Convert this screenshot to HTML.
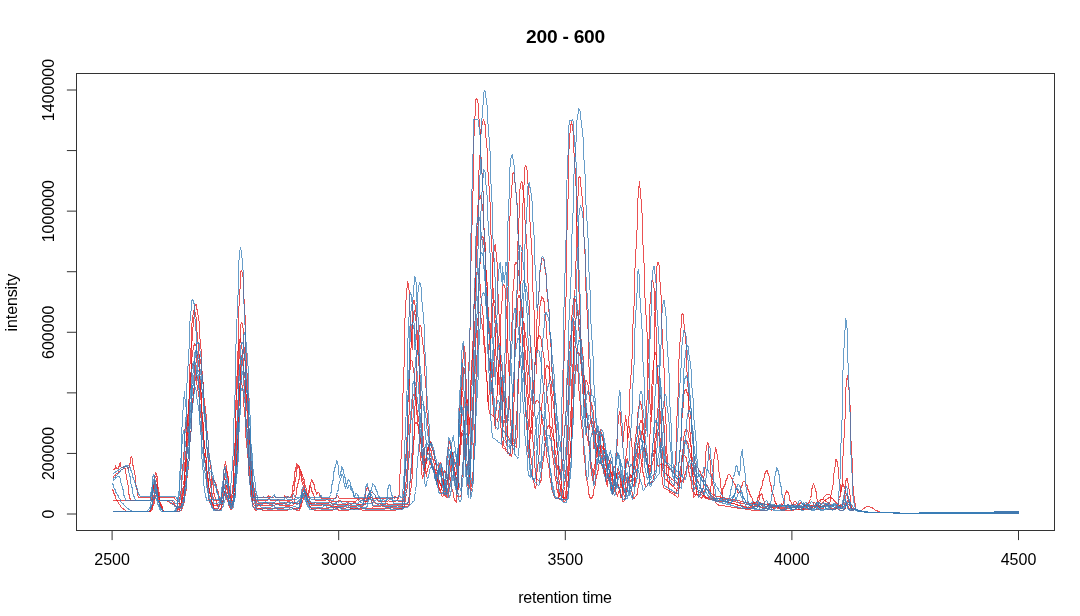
<!DOCTYPE html><html><head><meta charset="utf-8"><title>200 - 600</title>
<style>html,body{margin:0;padding:0;background:#fff}body{width:1080px;height:616px;overflow:hidden}svg{display:block}text{font-family:"Liberation Sans",Arial,sans-serif;fill:#000}</style></head><body>
<svg width="1080" height="616" viewBox="0 0 1080 616">
<rect width="1080" height="616" fill="#fff"/>
<g fill="none" stroke-width="1" stroke-linejoin="round" shape-rendering="crispEdges">
<polyline stroke="#E41A1C" stroke-opacity="0.76" points="112.5,470.5 113.5,469.5 114.5,469.5 115.5,467.5 115.5,465.5 116.5,468.5 118.5,468.5 119.5,464.5 120.5,462.5 120.5,466.5 121.5,467.5 123.5,467.5 123.5,466.5 126.5,466.5 127.5,467.5 128.5,470.5 128.5,469.5 129.5,465.5 130.5,461.5 130.5,458.5 131.5,456.5 132.5,459.5 132.5,463.5 133.5,467.5 134.5,472.5 135.5,477.5 135.5,482.5 136.5,487.5 137.5,491.5 137.5,494.5 138.5,497.5 152.5,497.5 152.5,494.5 153.5,488.5 154.5,482.5 154.5,477.5 155.5,472.5 156.5,474.5 157.5,478.5 157.5,484.5 158.5,489.5 159.5,494.5 159.5,497.5 174.5,497.5 174.5,498.5 175.5,499.5 176.5,500.5 177.5,501.5 177.5,502.5 178.5,503.5 180.5,503.5 181.5,502.5 182.5,502.5 183.5,499.5 184.5,494.5 184.5,488.5 185.5,480.5 186.5,470.5 186.5,459.5 187.5,446.5 188.5,431.5 189.5,415.5 189.5,399.5 190.5,381.5 191.5,364.5 191.5,348.5 192.5,333.5 193.5,321.5 194.5,312.5 194.5,306.5 195.5,304.5 196.5,304.5 196.5,307.5 197.5,311.5 198.5,317.5 199.5,324.5 199.5,333.5 200.5,343.5 201.5,353.5 201.5,364.5 202.5,376.5 203.5,387.5 203.5,399.5 204.5,411.5 205.5,422.5 206.5,432.5 206.5,442.5 207.5,452.5 208.5,460.5 208.5,468.5 209.5,475.5 210.5,481.5 211.5,486.5 211.5,491.5 212.5,495.5 213.5,498.5 213.5,500.5 221.5,500.5 221.5,495.5 222.5,489.5 223.5,482.5 223.5,474.5 224.5,466.5 225.5,461.5 225.5,462.5 226.5,467.5 227.5,474.5 228.5,480.5 228.5,486.5 229.5,492.5 230.5,496.5 230.5,499.5 231.5,497.5 232.5,490.5 233.5,480.5 233.5,468.5 234.5,452.5 235.5,433.5 235.5,412.5 236.5,388.5 237.5,363.5 238.5,339.5 238.5,316.5 239.5,296.5 240.5,281.5 240.5,272.5 241.5,270.5 242.5,273.5 243.5,280.5 243.5,291.5 244.5,306.5 245.5,323.5 245.5,342.5 246.5,362.5 247.5,382.5 248.5,402.5 248.5,420.5 249.5,437.5 250.5,452.5 250.5,465.5 251.5,476.5 252.5,485.5 252.5,492.5 253.5,497.5 267.5,497.5 267.5,496.5 268.5,495.5 269.5,497.5 270.5,496.5 271.5,497.5 273.5,497.5 274.5,496.5 275.5,497.5 284.5,497.5 284.5,495.5 285.5,496.5 286.5,497.5 287.5,497.5 287.5,496.5 288.5,496.5 289.5,497.5 290.5,497.5 291.5,495.5 292.5,492.5 292.5,487.5 293.5,483.5 294.5,478.5 294.5,473.5 295.5,469.5 296.5,465.5 296.5,463.5 297.5,464.5 298.5,466.5 299.5,468.5 299.5,471.5 300.5,474.5 301.5,477.5 301.5,480.5 302.5,483.5 303.5,486.5 304.5,489.5 304.5,492.5 305.5,494.5 306.5,496.5 306.5,498.5 307.5,498.5 308.5,494.5 309.5,491.5 309.5,487.5 310.5,483.5 311.5,480.5 311.5,479.5 312.5,481.5 313.5,483.5 314.5,485.5 314.5,488.5 315.5,490.5 316.5,493.5 316.5,494.5 317.5,492.5 318.5,492.5 319.5,493.5 319.5,494.5 320.5,496.5 321.5,498.5 335.5,498.5 336.5,496.5 336.5,495.5 337.5,495.5 338.5,496.5 338.5,497.5 339.5,498.5 370.5,498.5 370.5,497.5 371.5,497.5 372.5,498.5 385.5,498.5 386.5,497.5 387.5,497.5 388.5,498.5 392.5,498.5 393.5,497.5 394.5,496.5 394.5,498.5 395.5,496.5 396.5,497.5 397.5,497.5 397.5,498.5 398.5,498.5 399.5,491.5 399.5,481.5 400.5,467.5 401.5,450.5 402.5,429.5 402.5,406.5 403.5,380.5 404.5,354.5 404.5,329.5 405.5,307.5 406.5,292.5 407.5,283.5 407.5,281.5 408.5,285.5 409.5,294.5 409.5,306.5 410.5,322.5 411.5,340.5 412.5,349.5 412.5,327.5 413.5,313.5 414.5,310.5 414.5,312.5 415.5,316.5 416.5,324.5 416.5,333.5 417.5,345.5 418.5,358.5 419.5,372.5 419.5,386.5 420.5,401.5 421.5,415.5 421.5,429.5 422.5,442.5 423.5,453.5 424.5,464.5 424.5,471.5 425.5,466.5 426.5,461.5 426.5,457.5 427.5,452.5 428.5,448.5 429.5,444.5 429.5,442.5 430.5,442.5 431.5,444.5 431.5,446.5 432.5,449.5 433.5,452.5 434.5,456.5 434.5,459.5 435.5,462.5 436.5,466.5 436.5,469.5 437.5,472.5 438.5,476.5 438.5,479.5 439.5,482.5 440.5,484.5 441.5,487.5 442.5,483.5 443.5,478.5 443.5,474.5 444.5,470.5 445.5,471.5 446.5,473.5 446.5,476.5 447.5,480.5 448.5,475.5 448.5,468.5 449.5,461.5 450.5,454.5 451.5,450.5 452.5,454.5 453.5,458.5 453.5,464.5 454.5,469.5 455.5,474.5 456.5,479.5 456.5,484.5 457.5,480.5 458.5,469.5 458.5,458.5 459.5,448.5 460.5,439.5 461.5,434.5 461.5,432.5 462.5,433.5 463.5,438.5 463.5,445.5 464.5,454.5 465.5,464.5 466.5,448.5 467.5,428.5 468.5,405.5 468.5,377.5 469.5,347.5 470.5,314.5 470.5,279.5 471.5,243.5 472.5,208.5 473.5,175.5 473.5,147.5 474.5,124.5 475.5,107.5 475.5,99.5 476.5,98.5 477.5,100.5 478.5,105.5 478.5,113.5 479.5,123.5 480.5,134.5 480.5,148.5 481.5,164.5 482.5,181.5 483.5,199.5 483.5,218.5 484.5,237.5 485.5,257.5 485.5,277.5 486.5,296.5 487.5,316.5 487.5,334.5 488.5,352.5 489.5,369.5 490.5,360.5 490.5,335.5 491.5,310.5 492.5,288.5 492.5,269.5 493.5,255.5 494.5,246.5 495.5,244.5 495.5,247.5 496.5,255.5 497.5,267.5 497.5,284.5 498.5,303.5 499.5,324.5 500.5,346.5 500.5,368.5 501.5,389.5 502.5,410.5 502.5,428.5 503.5,445.5 504.5,446.5 505.5,447.5 505.5,448.5 506.5,449.5 507.5,450.5 507.5,451.5 508.5,452.5 509.5,453.5 509.5,454.5 510.5,455.5 511.5,456.5 512.5,451.5 512.5,434.5 513.5,413.5 514.5,390.5 514.5,364.5 515.5,337.5 516.5,308.5 517.5,280.5 517.5,253.5 518.5,228.5 519.5,208.5 519.5,193.5 520.5,184.5 521.5,181.5 522.5,182.5 522.5,186.5 523.5,193.5 524.5,202.5 524.5,213.5 525.5,226.5 526.5,240.5 527.5,256.5 527.5,273.5 528.5,291.5 529.5,308.5 529.5,326.5 530.5,344.5 531.5,361.5 532.5,378.5 532.5,393.5 533.5,403.5 534.5,388.5 534.5,373.5 535.5,357.5 536.5,341.5 536.5,326.5 537.5,311.5 538.5,298.5 539.5,286.5 539.5,276.5 540.5,267.5 541.5,262.5 541.5,258.5 542.5,258.5 543.5,259.5 544.5,261.5 544.5,266.5 545.5,271.5 546.5,278.5 546.5,287.5 547.5,296.5 548.5,306.5 549.5,317.5 549.5,329.5 550.5,340.5 551.5,353.5 551.5,365.5 552.5,377.5 553.5,389.5 554.5,401.5 554.5,412.5 555.5,422.5 556.5,432.5 556.5,442.5 557.5,450.5 558.5,458.5 558.5,466.5 559.5,472.5 560.5,475.5 561.5,462.5 561.5,445.5 562.5,426.5 563.5,402.5 563.5,376.5 564.5,346.5 565.5,314.5 566.5,280.5 566.5,247.5 567.5,214.5 568.5,184.5 568.5,159.5 569.5,139.5 570.5,126.5 571.5,121.5 571.5,122.5 572.5,126.5 573.5,134.5 573.5,145.5 574.5,159.5 575.5,176.5 576.5,194.5 576.5,214.5 577.5,236.5 578.5,258.5 578.5,280.5 579.5,303.5 580.5,325.5 580.5,346.5 581.5,366.5 582.5,385.5 583.5,402.5 583.5,398.5 584.5,388.5 585.5,382.5 585.5,380.5 586.5,380.5 587.5,383.5 588.5,386.5 588.5,391.5 589.5,398.5 590.5,405.5 590.5,413.5 591.5,422.5 592.5,430.5 593.5,439.5 593.5,448.5 594.5,448.5 595.5,442.5 595.5,437.5 596.5,432.5 597.5,430.5 598.5,431.5 598.5,434.5 599.5,438.5 600.5,442.5 600.5,447.5 601.5,451.5 602.5,456.5 603.5,460.5 603.5,465.5 604.5,469.5 605.5,473.5 605.5,477.5 606.5,481.5 607.5,476.5 607.5,471.5 608.5,465.5 609.5,461.5 610.5,458.5 610.5,459.5 611.5,462.5 612.5,465.5 612.5,469.5 613.5,473.5 614.5,477.5 615.5,481.5 615.5,479.5 616.5,475.5 617.5,472.5 617.5,471.5 618.5,473.5 619.5,476.5 620.5,479.5 620.5,483.5 621.5,486.5 622.5,488.5 622.5,484.5 623.5,479.5 624.5,473.5 625.5,467.5 625.5,460.5 626.5,452.5 627.5,443.5 627.5,433.5 628.5,422.5 629.5,409.5 629.5,396.5 630.5,382.5 631.5,367.5 632.5,350.5 632.5,333.5 633.5,315.5 634.5,296.5 634.5,277.5 635.5,258.5 636.5,239.5 637.5,221.5 637.5,204.5 638.5,191.5 639.5,181.5 639.5,182.5 640.5,192.5 641.5,205.5 642.5,220.5 642.5,236.5 643.5,253.5 644.5,271.5 644.5,288.5 645.5,306.5 646.5,323.5 647.5,339.5 647.5,355.5 648.5,370.5 649.5,384.5 649.5,397.5 650.5,409.5 651.5,420.5 651.5,421.5 652.5,398.5 653.5,373.5 654.5,348.5 654.5,323.5 655.5,300.5 656.5,282.5 656.5,269.5 657.5,262.5 658.5,262.5 659.5,267.5 659.5,275.5 660.5,287.5 661.5,302.5 661.5,319.5 662.5,338.5 663.5,358.5 664.5,377.5 664.5,397.5 665.5,415.5 666.5,431.5 666.5,447.5 667.5,460.5 668.5,471.5 669.5,480.5 669.5,483.5 670.5,484.5 671.5,484.5 672.5,485.5 673.5,485.5 674.5,482.5 674.5,471.5 675.5,458.5 676.5,443.5 676.5,425.5 677.5,406.5 678.5,387.5 678.5,367.5 679.5,350.5 680.5,334.5 681.5,322.5 681.5,315.5 682.5,313.5 683.5,314.5 683.5,319.5 684.5,327.5 685.5,337.5 686.5,350.5 686.5,364.5 687.5,379.5 688.5,394.5 688.5,409.5 689.5,424.5 690.5,438.5 691.5,451.5 691.5,462.5 692.5,472.5 693.5,481.5 693.5,488.5 694.5,494.5 700.5,494.5 700.5,493.5 701.5,491.5 702.5,490.5 703.5,486.5 703.5,480.5 704.5,472.5 705.5,463.5 705.5,455.5 706.5,447.5 707.5,442.5 708.5,444.5 708.5,450.5 709.5,456.5 710.5,463.5 710.5,470.5 711.5,477.5 712.5,483.5 713.5,488.5 713.5,493.5 714.5,495.5 715.5,496.5 719.5,496.5 720.5,497.5 724.5,497.5 725.5,498.5 729.5,498.5 730.5,499.5 734.5,499.5 735.5,500.5 739.5,500.5 740.5,501.5 743.5,501.5 744.5,502.5 748.5,502.5 749.5,503.5 753.5,503.5 754.5,504.5 757.5,504.5 757.5,502.5 758.5,501.5 759.5,498.5 759.5,496.5 760.5,494.5 761.5,493.5 762.5,495.5 762.5,497.5 763.5,499.5 764.5,502.5 764.5,504.5 766.5,504.5 767.5,505.5 768.5,505.5 769.5,503.5 770.5,504.5 771.5,505.5 780.5,505.5 781.5,504.5 781.5,503.5 782.5,504.5 783.5,505.5 792.5,505.5 793.5,504.5 793.5,502.5 794.5,501.5 795.5,501.5 796.5,502.5 796.5,503.5 797.5,504.5 798.5,505.5 799.5,504.5 800.5,502.5 801.5,502.5 802.5,503.5 803.5,504.5 803.5,505.5 812.5,505.5 813.5,504.5 813.5,502.5 814.5,502.5 815.5,503.5 816.5,505.5 819.5,505.5 820.5,506.5 825.5,506.5 826.5,504.5 827.5,504.5 828.5,503.5 828.5,504.5 829.5,503.5 830.5,500.5 830.5,497.5 831.5,492.5 832.5,487.5 833.5,482.5 833.5,476.5 834.5,470.5 835.5,464.5 835.5,459.5 836.5,459.5 837.5,463.5 838.5,469.5 838.5,475.5 839.5,481.5 840.5,486.5 840.5,492.5 841.5,490.5 842.5,479.5 842.5,464.5 843.5,447.5 844.5,428.5 845.5,409.5 845.5,393.5 846.5,381.5 847.5,375.5 847.5,376.5 848.5,383.5 849.5,396.5 850.5,413.5 850.5,431.5 851.5,449.5 852.5,466.5 852.5,480.5 853.5,491.5 854.5,499.5 855.5,505.5 855.5,508.5 856.5,509.5 857.5,510.5 858.5,511.5 867.5,511.5 867.5,512.5 892.5,512.5 893.5,513.5 1018.5,513.5"/>
<polyline stroke="#E41A1C" stroke-opacity="0.76" points="112.5,478.5 113.5,477.5 113.5,476.5 114.5,475.5 115.5,475.5 115.5,474.5 116.5,473.5 117.5,473.5 118.5,472.5 118.5,471.5 119.5,471.5 120.5,470.5 121.5,469.5 122.5,469.5 123.5,468.5 125.5,468.5 125.5,471.5 126.5,476.5 127.5,482.5 128.5,487.5 128.5,492.5 129.5,496.5 130.5,500.5 151.5,500.5 152.5,496.5 152.5,491.5 153.5,486.5 154.5,481.5 154.5,477.5 155.5,476.5 156.5,479.5 157.5,484.5 157.5,489.5 158.5,494.5 159.5,498.5 159.5,500.5 172.5,500.5 172.5,501.5 173.5,502.5 174.5,504.5 174.5,505.5 175.5,506.5 176.5,507.5 177.5,509.5 179.5,509.5 180.5,508.5 181.5,506.5 181.5,502.5 182.5,498.5 183.5,493.5 184.5,486.5 184.5,477.5 185.5,466.5 186.5,454.5 186.5,440.5 187.5,424.5 188.5,407.5 189.5,390.5 189.5,372.5 190.5,356.5 191.5,340.5 191.5,328.5 192.5,318.5 193.5,311.5 194.5,309.5 194.5,310.5 195.5,313.5 196.5,319.5 196.5,326.5 197.5,336.5 198.5,347.5 199.5,359.5 199.5,371.5 200.5,385.5 201.5,398.5 201.5,411.5 202.5,424.5 203.5,436.5 203.5,447.5 204.5,457.5 205.5,466.5 206.5,474.5 206.5,481.5 207.5,488.5 208.5,493.5 208.5,497.5 209.5,501.5 210.5,504.5 211.5,505.5 217.5,505.5 218.5,504.5 220.5,504.5 221.5,503.5 221.5,499.5 222.5,495.5 223.5,489.5 223.5,483.5 224.5,477.5 225.5,471.5 225.5,468.5 226.5,470.5 227.5,474.5 228.5,478.5 228.5,483.5 229.5,488.5 230.5,492.5 230.5,496.5 231.5,499.5 232.5,502.5 233.5,498.5 233.5,490.5 234.5,479.5 235.5,466.5 235.5,450.5 236.5,431.5 237.5,410.5 238.5,389.5 238.5,368.5 239.5,349.5 240.5,334.5 240.5,325.5 241.5,322.5 242.5,324.5 243.5,330.5 243.5,340.5 244.5,353.5 245.5,368.5 245.5,384.5 246.5,402.5 247.5,419.5 248.5,435.5 248.5,449.5 249.5,463.5 250.5,474.5 250.5,483.5 251.5,491.5 252.5,497.5 252.5,500.5 267.5,500.5 267.5,499.5 268.5,498.5 269.5,498.5 270.5,499.5 270.5,500.5 277.5,500.5 277.5,499.5 278.5,499.5 279.5,500.5 291.5,500.5 292.5,499.5 292.5,495.5 293.5,492.5 294.5,488.5 294.5,483.5 295.5,479.5 296.5,474.5 296.5,470.5 297.5,466.5 298.5,465.5 299.5,466.5 299.5,468.5 300.5,470.5 301.5,473.5 301.5,476.5 302.5,479.5 303.5,482.5 304.5,485.5 304.5,488.5 305.5,490.5 306.5,493.5 306.5,495.5 307.5,494.5 308.5,491.5 309.5,488.5 309.5,486.5 310.5,486.5 311.5,488.5 311.5,490.5 312.5,492.5 313.5,494.5 314.5,497.5 314.5,499.5 315.5,500.5 325.5,500.5 326.5,499.5 327.5,499.5 328.5,500.5 330.5,500.5 331.5,501.5 338.5,501.5 338.5,500.5 340.5,500.5 341.5,501.5 355.5,501.5 356.5,500.5 357.5,499.5 358.5,499.5 358.5,500.5 359.5,501.5 360.5,501.5 361.5,500.5 362.5,499.5 363.5,499.5 363.5,500.5 364.5,500.5 365.5,501.5 367.5,501.5 367.5,500.5 368.5,498.5 369.5,496.5 370.5,495.5 370.5,493.5 371.5,492.5 372.5,492.5 373.5,493.5 374.5,494.5 375.5,495.5 375.5,496.5 376.5,498.5 377.5,499.5 377.5,500.5 378.5,501.5 387.5,501.5 388.5,500.5 389.5,501.5 395.5,501.5 396.5,500.5 397.5,499.5 397.5,500.5 398.5,501.5 404.5,501.5 404.5,495.5 405.5,487.5 406.5,476.5 407.5,462.5 407.5,445.5 408.5,425.5 409.5,404.5 409.5,381.5 410.5,358.5 411.5,337.5 412.5,320.5 412.5,307.5 413.5,300.5 414.5,300.5 414.5,302.5 415.5,307.5 416.5,315.5 416.5,324.5 417.5,335.5 418.5,347.5 419.5,360.5 419.5,374.5 420.5,388.5 421.5,402.5 421.5,416.5 422.5,429.5 423.5,441.5 424.5,452.5 424.5,462.5 425.5,471.5 426.5,476.5 426.5,473.5 427.5,469.5 428.5,466.5 429.5,463.5 429.5,461.5 430.5,460.5 431.5,462.5 431.5,463.5 432.5,465.5 433.5,468.5 434.5,470.5 434.5,472.5 435.5,475.5 436.5,477.5 436.5,480.5 437.5,482.5 438.5,485.5 438.5,487.5 439.5,489.5 440.5,491.5 441.5,493.5 441.5,495.5 442.5,496.5 443.5,495.5 443.5,490.5 444.5,484.5 445.5,478.5 446.5,470.5 446.5,462.5 447.5,454.5 448.5,446.5 448.5,441.5 449.5,441.5 450.5,445.5 451.5,451.5 451.5,457.5 452.5,463.5 453.5,469.5 453.5,475.5 454.5,480.5 455.5,485.5 456.5,489.5 456.5,493.5 457.5,496.5 460.5,496.5 461.5,493.5 461.5,483.5 462.5,471.5 463.5,457.5 463.5,442.5 464.5,427.5 465.5,414.5 465.5,404.5 466.5,400.5 467.5,400.5 468.5,405.5 468.5,414.5 469.5,424.5 470.5,409.5 470.5,394.5 471.5,376.5 472.5,358.5 473.5,339.5 473.5,319.5 474.5,298.5 475.5,277.5 475.5,256.5 476.5,235.5 477.5,215.5 478.5,195.5 478.5,178.5 479.5,162.5 480.5,148.5 480.5,136.5 481.5,128.5 482.5,122.5 483.5,119.5 484.5,122.5 485.5,126.5 485.5,133.5 486.5,142.5 487.5,152.5 487.5,164.5 488.5,178.5 489.5,193.5 490.5,209.5 490.5,225.5 491.5,243.5 492.5,260.5 492.5,278.5 493.5,296.5 494.5,314.5 495.5,331.5 495.5,347.5 496.5,363.5 497.5,379.5 497.5,393.5 498.5,376.5 499.5,357.5 500.5,338.5 500.5,321.5 501.5,306.5 502.5,295.5 502.5,287.5 503.5,284.5 504.5,285.5 505.5,290.5 505.5,299.5 506.5,311.5 507.5,326.5 507.5,343.5 508.5,362.5 509.5,381.5 509.5,399.5 510.5,417.5 511.5,434.5 512.5,440.5 512.5,442.5 513.5,443.5 514.5,444.5 514.5,445.5 515.5,446.5 516.5,447.5 517.5,428.5 517.5,407.5 518.5,382.5 519.5,355.5 519.5,326.5 520.5,296.5 521.5,266.5 522.5,238.5 522.5,213.5 523.5,192.5 524.5,177.5 524.5,168.5 525.5,165.5 526.5,167.5 527.5,172.5 527.5,179.5 528.5,188.5 529.5,200.5 529.5,214.5 530.5,229.5 531.5,246.5 532.5,263.5 532.5,282.5 533.5,300.5 534.5,319.5 534.5,338.5 535.5,355.5 536.5,373.5 536.5,360.5 537.5,345.5 538.5,332.5 539.5,320.5 539.5,310.5 540.5,302.5 541.5,298.5 541.5,296.5 542.5,297.5 543.5,299.5 544.5,303.5 544.5,309.5 545.5,316.5 546.5,324.5 546.5,333.5 547.5,344.5 548.5,355.5 549.5,366.5 549.5,378.5 550.5,389.5 551.5,401.5 551.5,412.5 552.5,423.5 553.5,433.5 554.5,443.5 554.5,452.5 555.5,460.5 556.5,468.5 556.5,475.5 557.5,481.5 558.5,486.5 558.5,491.5 559.5,495.5 560.5,495.5 561.5,496.5 562.5,497.5 566.5,497.5 567.5,494.5 568.5,487.5 568.5,477.5 569.5,465.5 570.5,450.5 571.5,432.5 571.5,411.5 572.5,387.5 573.5,361.5 573.5,333.5 574.5,304.5 575.5,275.5 576.5,248.5 576.5,223.5 577.5,203.5 578.5,188.5 578.5,178.5 579.5,176.5 580.5,178.5 580.5,182.5 581.5,190.5 582.5,200.5 583.5,213.5 583.5,228.5 584.5,244.5 585.5,262.5 585.5,281.5 586.5,300.5 587.5,319.5 588.5,338.5 588.5,357.5 589.5,375.5 590.5,392.5 590.5,401.5 591.5,403.5 592.5,407.5 593.5,412.5 593.5,417.5 594.5,424.5 595.5,431.5 595.5,438.5 596.5,446.5 597.5,453.5 598.5,460.5 598.5,458.5 599.5,453.5 600.5,449.5 600.5,446.5 601.5,445.5 602.5,447.5 603.5,449.5 603.5,453.5 604.5,456.5 605.5,460.5 605.5,464.5 606.5,466.5 607.5,464.5 607.5,465.5 608.5,468.5 609.5,471.5 610.5,475.5 610.5,479.5 611.5,480.5 612.5,475.5 612.5,471.5 613.5,467.5 614.5,466.5 615.5,468.5 615.5,471.5 616.5,475.5 617.5,479.5 617.5,483.5 618.5,487.5 619.5,490.5 620.5,494.5 620.5,497.5 621.5,497.5 622.5,494.5 622.5,489.5 623.5,484.5 624.5,478.5 625.5,472.5 625.5,466.5 626.5,460.5 627.5,458.5 627.5,460.5 628.5,464.5 629.5,468.5 629.5,472.5 630.5,477.5 631.5,477.5 632.5,472.5 632.5,466.5 633.5,459.5 634.5,453.5 634.5,445.5 635.5,438.5 636.5,430.5 637.5,422.5 637.5,415.5 638.5,409.5 639.5,403.5 639.5,400.5 640.5,402.5 641.5,406.5 642.5,412.5 642.5,419.5 643.5,426.5 644.5,433.5 644.5,440.5 645.5,428.5 646.5,409.5 647.5,390.5 647.5,369.5 648.5,348.5 649.5,329.5 649.5,311.5 650.5,297.5 651.5,287.5 651.5,281.5 652.5,280.5 653.5,283.5 654.5,291.5 654.5,303.5 655.5,318.5 656.5,335.5 656.5,354.5 657.5,374.5 658.5,393.5 659.5,412.5 659.5,430.5 660.5,445.5 661.5,459.5 661.5,471.5 662.5,481.5 663.5,487.5 664.5,488.5 665.5,488.5 666.5,489.5 667.5,489.5 668.5,490.5 669.5,490.5 670.5,491.5 671.5,491.5 672.5,492.5 674.5,492.5 674.5,493.5 676.5,493.5 676.5,492.5 677.5,486.5 678.5,478.5 678.5,468.5 679.5,458.5 680.5,446.5 681.5,435.5 681.5,423.5 682.5,412.5 683.5,403.5 683.5,395.5 684.5,391.5 685.5,389.5 686.5,389.5 686.5,391.5 687.5,393.5 688.5,397.5 688.5,402.5 689.5,408.5 690.5,415.5 691.5,422.5 691.5,429.5 692.5,437.5 693.5,444.5 693.5,452.5 694.5,459.5 695.5,466.5 696.5,472.5 696.5,478.5 697.5,480.5 698.5,482.5 698.5,483.5 699.5,484.5 700.5,486.5 700.5,488.5 701.5,489.5 702.5,491.5 703.5,492.5 703.5,494.5 704.5,495.5 705.5,497.5 709.5,497.5 710.5,494.5 710.5,489.5 711.5,483.5 712.5,476.5 713.5,469.5 713.5,462.5 714.5,455.5 715.5,449.5 715.5,447.5 716.5,451.5 717.5,456.5 718.5,462.5 718.5,468.5 719.5,474.5 720.5,480.5 720.5,485.5 721.5,490.5 722.5,494.5 722.5,498.5 723.5,501.5 726.5,501.5 727.5,502.5 730.5,502.5 731.5,503.5 734.5,503.5 735.5,504.5 737.5,504.5 738.5,505.5 742.5,505.5 742.5,506.5 745.5,506.5 746.5,507.5 751.5,507.5 752.5,506.5 752.5,504.5 753.5,502.5 754.5,502.5 754.5,503.5 755.5,504.5 756.5,505.5 757.5,506.5 758.5,504.5 759.5,503.5 759.5,502.5 760.5,502.5 761.5,504.5 762.5,505.5 762.5,507.5 766.5,507.5 767.5,505.5 767.5,503.5 768.5,504.5 769.5,505.5 769.5,507.5 773.5,507.5 774.5,506.5 774.5,504.5 775.5,503.5 776.5,503.5 776.5,504.5 777.5,505.5 778.5,507.5 785.5,507.5 786.5,506.5 786.5,505.5 787.5,504.5 788.5,504.5 789.5,505.5 789.5,506.5 790.5,507.5 803.5,507.5 804.5,506.5 805.5,505.5 806.5,504.5 806.5,503.5 808.5,503.5 809.5,501.5 810.5,498.5 811.5,494.5 811.5,490.5 812.5,486.5 813.5,483.5 814.5,486.5 815.5,489.5 816.5,493.5 816.5,497.5 817.5,500.5 818.5,503.5 818.5,505.5 819.5,507.5 820.5,508.5 823.5,508.5 823.5,506.5 824.5,504.5 825.5,503.5 826.5,504.5 827.5,505.5 828.5,505.5 829.5,506.5 830.5,508.5 837.5,508.5 838.5,507.5 838.5,506.5 839.5,505.5 840.5,504.5 840.5,506.5 841.5,505.5 842.5,504.5 843.5,502.5 844.5,495.5 845.5,488.5 845.5,482.5 846.5,478.5 847.5,478.5 847.5,480.5 848.5,485.5 849.5,491.5 850.5,498.5 850.5,503.5 851.5,507.5 852.5,508.5 852.5,509.5 855.5,509.5 856.5,510.5 857.5,510.5 858.5,511.5 859.5,511.5 860.5,510.5 861.5,510.5 862.5,509.5 863.5,508.5 864.5,508.5 864.5,507.5 865.5,507.5 866.5,506.5 869.5,506.5 870.5,507.5 872.5,507.5 872.5,508.5 873.5,508.5 874.5,509.5 875.5,510.5 877.5,510.5 877.5,511.5 879.5,511.5 880.5,512.5 894.5,512.5 894.5,513.5 918.5,513.5 919.5,512.5 1018.5,512.5"/>
<polyline stroke="#E41A1C" stroke-opacity="0.76" points="112.5,489.5 113.5,491.5 113.5,492.5 114.5,494.5 115.5,496.5 115.5,498.5 116.5,499.5 117.5,501.5 118.5,502.5 118.5,503.5 119.5,504.5 120.5,505.5 120.5,506.5 121.5,507.5 122.5,508.5 123.5,508.5 123.5,509.5 124.5,509.5 125.5,510.5 126.5,511.5 150.5,511.5 150.5,510.5 151.5,508.5 152.5,506.5 152.5,504.5 153.5,501.5 154.5,498.5 154.5,495.5 155.5,492.5 156.5,490.5 157.5,491.5 157.5,493.5 158.5,496.5 159.5,499.5 159.5,502.5 160.5,504.5 161.5,506.5 162.5,508.5 162.5,509.5 163.5,510.5 164.5,511.5 178.5,511.5 179.5,510.5 179.5,508.5 180.5,506.5 181.5,503.5 181.5,500.5 182.5,496.5 183.5,490.5 184.5,484.5 184.5,476.5 185.5,467.5 186.5,457.5 186.5,446.5 187.5,434.5 188.5,421.5 189.5,408.5 189.5,395.5 190.5,383.5 191.5,371.5 191.5,361.5 192.5,353.5 193.5,347.5 194.5,343.5 195.5,344.5 196.5,346.5 196.5,350.5 197.5,356.5 198.5,362.5 199.5,370.5 199.5,378.5 200.5,387.5 201.5,397.5 201.5,406.5 202.5,416.5 203.5,426.5 203.5,435.5 204.5,444.5 205.5,453.5 206.5,461.5 206.5,468.5 207.5,475.5 208.5,481.5 208.5,486.5 209.5,491.5 210.5,495.5 211.5,498.5 211.5,501.5 212.5,503.5 213.5,505.5 213.5,507.5 214.5,508.5 217.5,508.5 218.5,507.5 219.5,506.5 220.5,503.5 221.5,499.5 221.5,495.5 222.5,490.5 223.5,485.5 223.5,480.5 224.5,478.5 225.5,480.5 225.5,483.5 226.5,487.5 227.5,491.5 228.5,495.5 228.5,498.5 229.5,501.5 230.5,503.5 230.5,506.5 231.5,501.5 232.5,494.5 233.5,485.5 233.5,473.5 234.5,458.5 235.5,440.5 235.5,420.5 236.5,399.5 237.5,379.5 238.5,361.5 238.5,347.5 239.5,339.5 240.5,338.5 240.5,340.5 241.5,345.5 242.5,352.5 243.5,362.5 243.5,373.5 244.5,385.5 245.5,399.5 245.5,412.5 246.5,425.5 247.5,438.5 248.5,450.5 248.5,461.5 249.5,471.5 250.5,479.5 250.5,486.5 251.5,492.5 252.5,497.5 252.5,501.5 253.5,504.5 254.5,505.5 274.5,505.5 275.5,504.5 276.5,504.5 277.5,503.5 278.5,504.5 279.5,504.5 279.5,505.5 292.5,505.5 293.5,504.5 294.5,502.5 294.5,499.5 295.5,496.5 296.5,493.5 296.5,489.5 297.5,485.5 298.5,481.5 299.5,477.5 299.5,473.5 300.5,471.5 301.5,471.5 301.5,473.5 302.5,475.5 303.5,478.5 304.5,480.5 304.5,483.5 305.5,486.5 306.5,489.5 306.5,492.5 307.5,494.5 308.5,496.5 309.5,498.5 309.5,500.5 310.5,502.5 311.5,504.5 311.5,505.5 321.5,505.5 321.5,504.5 322.5,504.5 323.5,505.5 330.5,505.5 331.5,506.5 344.5,506.5 345.5,505.5 346.5,504.5 348.5,504.5 349.5,505.5 350.5,506.5 356.5,506.5 357.5,505.5 358.5,504.5 359.5,504.5 360.5,505.5 360.5,506.5 362.5,506.5 363.5,505.5 363.5,503.5 364.5,499.5 365.5,496.5 365.5,492.5 366.5,489.5 367.5,487.5 368.5,489.5 369.5,492.5 370.5,495.5 370.5,498.5 371.5,501.5 372.5,503.5 372.5,505.5 373.5,506.5 380.5,506.5 381.5,505.5 382.5,505.5 382.5,506.5 396.5,506.5 397.5,505.5 398.5,506.5 407.5,506.5 408.5,505.5 409.5,503.5 409.5,498.5 410.5,492.5 411.5,484.5 412.5,474.5 412.5,462.5 413.5,448.5 414.5,432.5 414.5,415.5 415.5,397.5 416.5,379.5 416.5,362.5 417.5,348.5 418.5,336.5 419.5,328.5 419.5,325.5 420.5,325.5 421.5,328.5 421.5,333.5 422.5,340.5 423.5,348.5 424.5,358.5 424.5,370.5 425.5,381.5 426.5,394.5 426.5,406.5 427.5,419.5 428.5,431.5 429.5,442.5 429.5,452.5 430.5,462.5 431.5,467.5 431.5,466.5 432.5,466.5 433.5,468.5 434.5,469.5 434.5,471.5 435.5,473.5 436.5,476.5 436.5,478.5 437.5,480.5 438.5,476.5 438.5,472.5 439.5,469.5 440.5,470.5 441.5,472.5 441.5,476.5 442.5,479.5 443.5,483.5 443.5,487.5 444.5,490.5 445.5,493.5 446.5,496.5 446.5,495.5 447.5,491.5 448.5,486.5 448.5,480.5 449.5,474.5 450.5,469.5 451.5,463.5 451.5,460.5 452.5,461.5 453.5,465.5 453.5,469.5 454.5,473.5 455.5,477.5 456.5,482.5 456.5,486.5 457.5,490.5 458.5,488.5 458.5,474.5 459.5,456.5 460.5,434.5 461.5,411.5 461.5,387.5 462.5,366.5 463.5,351.5 463.5,345.5 464.5,347.5 465.5,355.5 465.5,369.5 466.5,388.5 467.5,408.5 468.5,429.5 468.5,448.5 469.5,465.5 470.5,461.5 470.5,446.5 471.5,428.5 472.5,408.5 473.5,385.5 473.5,360.5 474.5,334.5 475.5,307.5 475.5,281.5 476.5,256.5 477.5,235.5 478.5,217.5 478.5,204.5 479.5,196.5 480.5,195.5 480.5,196.5 481.5,200.5 482.5,206.5 483.5,214.5 483.5,224.5 484.5,235.5 485.5,248.5 485.5,262.5 486.5,277.5 487.5,293.5 487.5,309.5 488.5,325.5 489.5,341.5 490.5,357.5 490.5,372.5 491.5,387.5 492.5,400.5 492.5,384.5 493.5,369.5 494.5,355.5 495.5,343.5 495.5,335.5 496.5,330.5 497.5,330.5 497.5,332.5 498.5,338.5 499.5,346.5 500.5,357.5 500.5,369.5 501.5,383.5 502.5,397.5 502.5,412.5 503.5,426.5 504.5,419.5 505.5,398.5 505.5,376.5 506.5,352.5 507.5,326.5 507.5,300.5 508.5,274.5 509.5,249.5 509.5,226.5 510.5,206.5 511.5,190.5 512.5,179.5 512.5,173.5 513.5,172.5 514.5,174.5 514.5,179.5 515.5,186.5 516.5,196.5 517.5,208.5 517.5,222.5 518.5,237.5 519.5,254.5 519.5,271.5 520.5,289.5 521.5,308.5 522.5,326.5 522.5,344.5 523.5,361.5 524.5,378.5 524.5,394.5 525.5,409.5 526.5,423.5 527.5,435.5 527.5,446.5 528.5,457.5 529.5,453.5 529.5,444.5 530.5,433.5 531.5,422.5 532.5,410.5 532.5,399.5 533.5,387.5 534.5,376.5 534.5,366.5 535.5,357.5 536.5,349.5 536.5,343.5 537.5,338.5 538.5,335.5 539.5,335.5 540.5,337.5 541.5,340.5 541.5,344.5 542.5,348.5 543.5,354.5 544.5,360.5 544.5,367.5 545.5,375.5 546.5,382.5 546.5,391.5 547.5,399.5 548.5,407.5 549.5,416.5 549.5,424.5 550.5,432.5 551.5,440.5 551.5,447.5 552.5,454.5 553.5,461.5 554.5,467.5 554.5,473.5 555.5,478.5 556.5,483.5 556.5,487.5 557.5,491.5 558.5,494.5 558.5,497.5 559.5,499.5 563.5,499.5 563.5,493.5 564.5,486.5 565.5,476.5 566.5,464.5 566.5,450.5 567.5,434.5 568.5,416.5 568.5,396.5 569.5,376.5 570.5,356.5 571.5,337.5 571.5,321.5 572.5,309.5 573.5,301.5 573.5,298.5 574.5,298.5 575.5,300.5 576.5,303.5 576.5,307.5 577.5,312.5 578.5,319.5 578.5,326.5 579.5,334.5 580.5,343.5 580.5,352.5 581.5,362.5 582.5,372.5 583.5,382.5 583.5,393.5 584.5,403.5 585.5,412.5 585.5,422.5 586.5,431.5 587.5,440.5 588.5,441.5 588.5,433.5 589.5,426.5 590.5,421.5 590.5,420.5 591.5,420.5 592.5,422.5 593.5,424.5 593.5,428.5 594.5,432.5 595.5,437.5 595.5,443.5 596.5,449.5 597.5,451.5 598.5,446.5 598.5,440.5 599.5,435.5 600.5,432.5 601.5,435.5 602.5,438.5 603.5,442.5 603.5,447.5 604.5,451.5 605.5,456.5 605.5,460.5 606.5,465.5 607.5,469.5 607.5,473.5 608.5,477.5 609.5,480.5 610.5,483.5 610.5,486.5 611.5,489.5 612.5,492.5 612.5,493.5 613.5,487.5 614.5,480.5 615.5,472.5 615.5,462.5 616.5,452.5 617.5,440.5 617.5,429.5 618.5,418.5 619.5,411.5 620.5,412.5 620.5,420.5 621.5,430.5 622.5,441.5 622.5,447.5 623.5,436.5 624.5,426.5 625.5,417.5 625.5,415.5 626.5,421.5 627.5,429.5 627.5,438.5 628.5,437.5 629.5,428.5 629.5,426.5 630.5,433.5 631.5,442.5 632.5,451.5 632.5,461.5 633.5,470.5 634.5,478.5 634.5,485.5 635.5,480.5 636.5,474.5 637.5,468.5 637.5,462.5 638.5,456.5 639.5,449.5 639.5,443.5 640.5,437.5 641.5,432.5 642.5,430.5 642.5,432.5 643.5,437.5 644.5,442.5 644.5,448.5 645.5,454.5 646.5,460.5 647.5,466.5 647.5,472.5 648.5,471.5 649.5,457.5 649.5,442.5 650.5,425.5 651.5,408.5 651.5,391.5 652.5,376.5 653.5,364.5 654.5,355.5 654.5,352.5 655.5,352.5 656.5,356.5 656.5,362.5 657.5,370.5 658.5,380.5 659.5,392.5 659.5,404.5 660.5,417.5 661.5,429.5 661.5,442.5 662.5,453.5 663.5,464.5 664.5,473.5 664.5,478.5 665.5,479.5 666.5,479.5 666.5,480.5 667.5,481.5 668.5,481.5 669.5,482.5 669.5,483.5 670.5,483.5 671.5,484.5 671.5,485.5 672.5,486.5 673.5,486.5 674.5,487.5 674.5,488.5 675.5,488.5 676.5,489.5 676.5,490.5 677.5,490.5 678.5,491.5 678.5,492.5 679.5,486.5 680.5,479.5 681.5,471.5 681.5,462.5 682.5,453.5 683.5,445.5 683.5,438.5 684.5,433.5 685.5,429.5 686.5,429.5 687.5,430.5 688.5,433.5 688.5,436.5 689.5,439.5 690.5,444.5 691.5,448.5 691.5,454.5 692.5,459.5 693.5,464.5 693.5,469.5 694.5,474.5 695.5,479.5 696.5,484.5 696.5,488.5 697.5,489.5 698.5,490.5 699.5,490.5 700.5,491.5 700.5,492.5 701.5,492.5 702.5,493.5 703.5,494.5 704.5,495.5 705.5,496.5 705.5,497.5 706.5,497.5 707.5,498.5 708.5,499.5 712.5,499.5 713.5,500.5 715.5,500.5 716.5,501.5 718.5,501.5 718.5,500.5 719.5,499.5 720.5,497.5 720.5,495.5 721.5,494.5 722.5,492.5 722.5,489.5 723.5,487.5 724.5,485.5 725.5,483.5 725.5,481.5 726.5,479.5 727.5,477.5 727.5,475.5 728.5,474.5 729.5,474.5 730.5,475.5 730.5,476.5 731.5,477.5 732.5,479.5 732.5,480.5 733.5,482.5 734.5,483.5 735.5,485.5 735.5,487.5 736.5,488.5 737.5,490.5 737.5,491.5 738.5,493.5 739.5,492.5 740.5,490.5 740.5,488.5 741.5,486.5 742.5,484.5 742.5,482.5 743.5,481.5 744.5,481.5 745.5,482.5 745.5,483.5 746.5,484.5 747.5,486.5 747.5,488.5 748.5,490.5 749.5,492.5 749.5,493.5 750.5,495.5 751.5,497.5 752.5,498.5 752.5,500.5 753.5,501.5 754.5,503.5 754.5,504.5 755.5,505.5 756.5,506.5 757.5,505.5 759.5,505.5 759.5,506.5 760.5,507.5 761.5,507.5 762.5,508.5 767.5,508.5 768.5,507.5 769.5,506.5 771.5,506.5 771.5,507.5 772.5,507.5 773.5,508.5 774.5,508.5 775.5,507.5 776.5,507.5 777.5,508.5 789.5,508.5 789.5,507.5 790.5,506.5 791.5,505.5 792.5,504.5 793.5,505.5 794.5,504.5 795.5,504.5 796.5,505.5 796.5,506.5 797.5,507.5 798.5,508.5 798.5,509.5 811.5,509.5 811.5,508.5 812.5,507.5 813.5,506.5 814.5,507.5 815.5,507.5 816.5,508.5 816.5,509.5 818.5,509.5 818.5,508.5 819.5,507.5 820.5,506.5 822.5,506.5 823.5,507.5 823.5,506.5 824.5,506.5 825.5,507.5 826.5,508.5 827.5,509.5 835.5,509.5 835.5,508.5 836.5,507.5 837.5,505.5 838.5,503.5 838.5,500.5 839.5,498.5 840.5,494.5 840.5,491.5 841.5,488.5 842.5,485.5 842.5,483.5 843.5,485.5 844.5,487.5 845.5,490.5 845.5,492.5 846.5,495.5 847.5,495.5 847.5,497.5 848.5,500.5 849.5,504.5 850.5,506.5 850.5,508.5 851.5,509.5 856.5,509.5 857.5,510.5 858.5,510.5 859.5,511.5 866.5,511.5 867.5,512.5 895.5,512.5 896.5,513.5 992.5,513.5 992.5,512.5 994.5,512.5 994.5,511.5 1018.5,511.5"/>
<polyline stroke="#E41A1C" stroke-opacity="0.76" points="112.5,511.5 149.5,511.5 150.5,510.5 150.5,509.5 151.5,507.5 152.5,504.5 152.5,501.5 153.5,497.5 154.5,492.5 154.5,488.5 155.5,484.5 156.5,484.5 157.5,487.5 157.5,490.5 158.5,494.5 159.5,497.5 159.5,500.5 160.5,503.5 161.5,505.5 162.5,507.5 162.5,509.5 163.5,510.5 164.5,511.5 176.5,511.5 177.5,510.5 177.5,509.5 178.5,507.5 179.5,504.5 179.5,500.5 180.5,494.5 181.5,488.5 181.5,479.5 182.5,470.5 183.5,458.5 184.5,446.5 184.5,434.5 185.5,423.5 186.5,420.5 186.5,425.5 187.5,431.5 188.5,439.5 189.5,446.5 189.5,447.5 190.5,436.5 191.5,426.5 191.5,415.5 192.5,403.5 193.5,393.5 194.5,383.5 194.5,374.5 195.5,366.5 196.5,360.5 196.5,356.5 197.5,354.5 198.5,354.5 199.5,355.5 199.5,357.5 200.5,361.5 201.5,365.5 201.5,371.5 202.5,378.5 203.5,385.5 203.5,393.5 204.5,401.5 205.5,409.5 206.5,418.5 206.5,426.5 207.5,435.5 208.5,443.5 208.5,451.5 209.5,458.5 210.5,465.5 211.5,471.5 211.5,477.5 212.5,482.5 213.5,487.5 213.5,491.5 214.5,495.5 215.5,498.5 216.5,501.5 216.5,503.5 217.5,505.5 218.5,507.5 218.5,508.5 219.5,509.5 220.5,509.5 221.5,507.5 221.5,505.5 222.5,503.5 223.5,499.5 223.5,496.5 224.5,492.5 225.5,489.5 225.5,486.5 226.5,485.5 227.5,487.5 228.5,490.5 228.5,493.5 229.5,496.5 230.5,499.5 230.5,502.5 231.5,505.5 232.5,506.5 233.5,503.5 233.5,498.5 234.5,492.5 235.5,484.5 235.5,473.5 236.5,461.5 237.5,447.5 238.5,431.5 238.5,414.5 239.5,398.5 240.5,382.5 240.5,369.5 241.5,358.5 242.5,352.5 243.5,350.5 243.5,351.5 244.5,356.5 245.5,363.5 245.5,373.5 246.5,384.5 247.5,397.5 248.5,410.5 248.5,424.5 249.5,437.5 250.5,449.5 250.5,461.5 251.5,471.5 252.5,480.5 252.5,487.5 253.5,494.5 254.5,498.5 255.5,502.5 255.5,505.5 256.5,508.5 283.5,508.5 284.5,507.5 285.5,506.5 289.5,506.5 290.5,507.5 291.5,507.5 292.5,508.5 299.5,508.5 299.5,507.5 300.5,505.5 301.5,502.5 301.5,500.5 302.5,497.5 303.5,494.5 304.5,492.5 305.5,493.5 306.5,495.5 306.5,497.5 307.5,499.5 308.5,502.5 309.5,503.5 309.5,505.5 310.5,507.5 311.5,508.5 328.5,508.5 328.5,507.5 329.5,507.5 330.5,506.5 331.5,506.5 332.5,507.5 333.5,507.5 333.5,508.5 334.5,507.5 335.5,506.5 336.5,506.5 337.5,508.5 338.5,507.5 340.5,507.5 341.5,508.5 345.5,508.5 346.5,507.5 348.5,507.5 348.5,506.5 349.5,507.5 350.5,507.5 350.5,508.5 372.5,508.5 372.5,507.5 373.5,508.5 390.5,508.5 390.5,507.5 392.5,507.5 393.5,508.5 403.5,508.5 404.5,507.5 404.5,503.5 405.5,499.5 406.5,493.5 407.5,485.5 407.5,475.5 408.5,464.5 409.5,452.5 409.5,439.5 410.5,426.5 411.5,414.5 412.5,404.5 412.5,397.5 413.5,394.5 414.5,394.5 414.5,395.5 415.5,398.5 416.5,401.5 416.5,406.5 417.5,412.5 418.5,418.5 419.5,425.5 419.5,432.5 420.5,439.5 421.5,447.5 421.5,454.5 422.5,461.5 423.5,468.5 424.5,468.5 424.5,464.5 425.5,460.5 426.5,457.5 426.5,454.5 427.5,452.5 428.5,453.5 429.5,454.5 429.5,457.5 430.5,459.5 431.5,462.5 431.5,465.5 432.5,467.5 433.5,470.5 434.5,473.5 434.5,476.5 435.5,479.5 436.5,482.5 436.5,484.5 437.5,478.5 438.5,472.5 438.5,467.5 439.5,463.5 440.5,462.5 441.5,465.5 441.5,469.5 442.5,473.5 443.5,477.5 443.5,481.5 444.5,485.5 445.5,489.5 446.5,493.5 446.5,488.5 447.5,482.5 448.5,476.5 448.5,469.5 449.5,462.5 450.5,455.5 451.5,450.5 452.5,454.5 453.5,459.5 453.5,464.5 454.5,469.5 455.5,474.5 456.5,479.5 456.5,484.5 457.5,488.5 458.5,484.5 458.5,471.5 459.5,454.5 460.5,436.5 461.5,416.5 461.5,397.5 462.5,382.5 463.5,371.5 463.5,367.5 464.5,369.5 465.5,378.5 465.5,390.5 466.5,407.5 467.5,424.5 468.5,442.5 468.5,459.5 469.5,473.5 470.5,485.5 470.5,494.5 471.5,487.5 472.5,478.5 473.5,466.5 473.5,451.5 474.5,434.5 475.5,414.5 475.5,391.5 476.5,367.5 477.5,342.5 478.5,317.5 478.5,293.5 479.5,272.5 480.5,255.5 480.5,243.5 481.5,236.5 482.5,236.5 483.5,238.5 483.5,241.5 484.5,247.5 485.5,255.5 485.5,264.5 486.5,275.5 487.5,287.5 487.5,299.5 488.5,313.5 489.5,327.5 490.5,342.5 490.5,356.5 491.5,370.5 492.5,384.5 492.5,398.5 493.5,410.5 494.5,422.5 495.5,428.5 495.5,419.5 496.5,403.5 497.5,389.5 497.5,377.5 498.5,367.5 499.5,361.5 500.5,360.5 500.5,361.5 501.5,366.5 502.5,374.5 502.5,384.5 503.5,395.5 504.5,408.5 505.5,421.5 505.5,434.5 506.5,445.5 507.5,438.5 507.5,422.5 508.5,405.5 509.5,387.5 509.5,369.5 510.5,350.5 511.5,331.5 512.5,313.5 512.5,297.5 513.5,284.5 514.5,273.5 514.5,266.5 515.5,262.5 516.5,262.5 517.5,264.5 517.5,267.5 518.5,272.5 519.5,278.5 519.5,286.5 520.5,295.5 521.5,305.5 522.5,316.5 522.5,328.5 523.5,340.5 524.5,353.5 524.5,365.5 525.5,378.5 526.5,390.5 527.5,402.5 527.5,413.5 528.5,424.5 529.5,434.5 529.5,444.5 530.5,453.5 531.5,461.5 532.5,468.5 532.5,474.5 533.5,480.5 534.5,485.5 534.5,487.5 535.5,488.5 536.5,483.5 536.5,476.5 537.5,468.5 538.5,459.5 539.5,450.5 539.5,440.5 540.5,429.5 541.5,419.5 541.5,408.5 542.5,398.5 543.5,389.5 544.5,381.5 544.5,374.5 545.5,369.5 546.5,366.5 546.5,365.5 547.5,365.5 548.5,367.5 549.5,369.5 549.5,373.5 550.5,378.5 551.5,383.5 551.5,390.5 552.5,397.5 553.5,404.5 554.5,412.5 554.5,420.5 555.5,428.5 556.5,436.5 556.5,444.5 557.5,451.5 558.5,458.5 558.5,465.5 559.5,471.5 560.5,477.5 561.5,482.5 561.5,487.5 562.5,491.5 563.5,494.5 563.5,498.5 564.5,499.5 565.5,494.5 566.5,487.5 566.5,480.5 567.5,471.5 568.5,460.5 568.5,448.5 569.5,434.5 570.5,419.5 571.5,403.5 571.5,387.5 572.5,371.5 573.5,356.5 573.5,342.5 574.5,330.5 575.5,321.5 576.5,315.5 576.5,312.5 577.5,312.5 578.5,313.5 578.5,317.5 579.5,321.5 580.5,327.5 580.5,334.5 581.5,342.5 582.5,351.5 583.5,360.5 583.5,370.5 584.5,381.5 585.5,391.5 585.5,402.5 586.5,412.5 587.5,422.5 588.5,432.5 588.5,441.5 589.5,449.5 590.5,457.5 590.5,465.5 591.5,472.5 592.5,478.5 593.5,483.5 593.5,478.5 594.5,472.5 595.5,467.5 595.5,461.5 596.5,455.5 597.5,448.5 598.5,442.5 598.5,437.5 599.5,432.5 600.5,429.5 600.5,430.5 601.5,433.5 602.5,437.5 603.5,441.5 603.5,445.5 604.5,450.5 605.5,455.5 605.5,459.5 606.5,458.5 607.5,454.5 607.5,455.5 608.5,458.5 609.5,461.5 610.5,466.5 610.5,470.5 611.5,474.5 612.5,479.5 612.5,483.5 613.5,487.5 614.5,484.5 615.5,481.5 615.5,478.5 616.5,478.5 617.5,479.5 617.5,482.5 618.5,485.5 619.5,488.5 620.5,491.5 620.5,494.5 621.5,496.5 622.5,499.5 622.5,501.5 623.5,501.5 624.5,500.5 625.5,496.5 625.5,493.5 626.5,489.5 627.5,485.5 627.5,481.5 628.5,478.5 629.5,477.5 629.5,479.5 630.5,481.5 631.5,481.5 632.5,477.5 632.5,473.5 633.5,468.5 634.5,464.5 634.5,459.5 635.5,455.5 636.5,451.5 637.5,447.5 637.5,445.5 638.5,446.5 639.5,448.5 639.5,452.5 640.5,456.5 641.5,461.5 642.5,465.5 642.5,470.5 643.5,474.5 644.5,478.5 644.5,482.5 645.5,486.5 646.5,486.5 647.5,485.5 647.5,484.5 648.5,483.5 649.5,483.5 649.5,482.5 650.5,482.5 651.5,481.5 651.5,482.5 652.5,482.5 653.5,480.5 654.5,470.5 654.5,459.5 655.5,447.5 656.5,435.5 656.5,423.5 657.5,412.5 658.5,403.5 659.5,397.5 659.5,395.5 660.5,395.5 661.5,398.5 661.5,403.5 662.5,411.5 663.5,419.5 664.5,429.5 664.5,440.5 665.5,450.5 666.5,460.5 666.5,469.5 667.5,478.5 668.5,485.5 669.5,491.5 669.5,492.5 670.5,492.5 671.5,493.5 672.5,493.5 673.5,494.5 674.5,494.5 674.5,495.5 675.5,495.5 676.5,496.5 677.5,497.5 678.5,496.5 678.5,491.5 679.5,485.5 680.5,479.5 681.5,472.5 681.5,465.5 682.5,458.5 683.5,452.5 683.5,447.5 684.5,443.5 685.5,440.5 686.5,440.5 687.5,442.5 688.5,444.5 688.5,447.5 689.5,450.5 690.5,455.5 691.5,459.5 691.5,464.5 692.5,469.5 693.5,474.5 693.5,471.5 694.5,468.5 695.5,466.5 696.5,466.5 697.5,467.5 698.5,468.5 698.5,469.5 699.5,470.5 700.5,472.5 700.5,473.5 701.5,474.5 702.5,476.5 703.5,477.5 703.5,479.5 704.5,480.5 705.5,481.5 705.5,483.5 706.5,484.5 707.5,486.5 708.5,487.5 708.5,488.5 709.5,489.5 710.5,491.5 710.5,492.5 711.5,493.5 712.5,494.5 713.5,495.5 713.5,496.5 714.5,497.5 715.5,498.5 715.5,499.5 716.5,500.5 717.5,501.5 727.5,501.5 728.5,502.5 730.5,502.5 731.5,503.5 734.5,503.5 735.5,504.5 737.5,504.5 737.5,505.5 740.5,505.5 741.5,506.5 743.5,506.5 744.5,507.5 747.5,507.5 747.5,508.5 748.5,508.5 749.5,507.5 750.5,506.5 751.5,506.5 752.5,507.5 752.5,508.5 753.5,507.5 754.5,505.5 754.5,504.5 755.5,503.5 756.5,501.5 757.5,500.5 757.5,498.5 758.5,496.5 759.5,494.5 759.5,492.5 760.5,489.5 761.5,487.5 762.5,484.5 762.5,481.5 763.5,479.5 764.5,476.5 764.5,474.5 765.5,472.5 766.5,470.5 767.5,470.5 767.5,472.5 768.5,474.5 769.5,477.5 769.5,480.5 770.5,483.5 771.5,487.5 771.5,490.5 772.5,493.5 773.5,495.5 774.5,498.5 774.5,500.5 775.5,502.5 776.5,504.5 776.5,505.5 777.5,507.5 778.5,507.5 779.5,508.5 780.5,509.5 785.5,509.5 786.5,508.5 786.5,507.5 787.5,506.5 789.5,506.5 789.5,507.5 790.5,507.5 791.5,508.5 791.5,509.5 802.5,509.5 803.5,507.5 803.5,506.5 804.5,505.5 805.5,505.5 806.5,506.5 806.5,507.5 807.5,507.5 808.5,508.5 808.5,509.5 810.5,509.5 811.5,507.5 811.5,506.5 813.5,506.5 814.5,507.5 815.5,506.5 816.5,505.5 817.5,504.5 818.5,503.5 819.5,502.5 820.5,501.5 820.5,500.5 821.5,499.5 822.5,499.5 823.5,498.5 823.5,497.5 824.5,496.5 825.5,495.5 826.5,494.5 829.5,494.5 830.5,495.5 830.5,496.5 831.5,497.5 832.5,498.5 833.5,499.5 833.5,500.5 834.5,501.5 835.5,502.5 836.5,503.5 837.5,504.5 838.5,505.5 838.5,506.5 839.5,506.5 840.5,507.5 840.5,508.5 842.5,508.5 843.5,509.5 844.5,508.5 845.5,508.5 845.5,506.5 846.5,503.5 847.5,500.5 848.5,500.5 849.5,501.5 850.5,504.5 850.5,506.5 851.5,508.5 852.5,509.5 857.5,509.5 857.5,510.5 860.5,510.5 860.5,511.5 865.5,511.5 866.5,512.5 896.5,512.5 897.5,513.5 918.5,513.5 919.5,512.5 1018.5,512.5"/>
<polyline stroke="#E41A1C" stroke-opacity="0.76" points="112.5,500.5 151.5,500.5 152.5,498.5 152.5,493.5 153.5,488.5 154.5,483.5 154.5,480.5 155.5,482.5 156.5,485.5 157.5,489.5 157.5,493.5 158.5,497.5 159.5,500.5 166.5,500.5 167.5,501.5 168.5,501.5 169.5,502.5 170.5,503.5 172.5,503.5 172.5,504.5 173.5,504.5 174.5,505.5 175.5,505.5 176.5,506.5 177.5,506.5 178.5,507.5 179.5,507.5 180.5,505.5 181.5,501.5 181.5,497.5 182.5,491.5 183.5,485.5 184.5,477.5 184.5,467.5 185.5,457.5 186.5,445.5 186.5,432.5 187.5,420.5 188.5,407.5 189.5,395.5 189.5,384.5 190.5,375.5 191.5,368.5 191.5,365.5 192.5,364.5 193.5,364.5 194.5,366.5 194.5,368.5 195.5,372.5 196.5,376.5 196.5,381.5 197.5,387.5 198.5,393.5 199.5,399.5 199.5,406.5 200.5,414.5 201.5,421.5 201.5,428.5 202.5,435.5 203.5,443.5 203.5,449.5 204.5,456.5 205.5,462.5 206.5,468.5 206.5,474.5 207.5,479.5 208.5,483.5 208.5,487.5 209.5,489.5 210.5,486.5 211.5,483.5 211.5,480.5 212.5,478.5 213.5,478.5 213.5,479.5 214.5,481.5 215.5,483.5 216.5,485.5 216.5,487.5 217.5,490.5 218.5,492.5 218.5,494.5 219.5,497.5 220.5,499.5 221.5,500.5 221.5,502.5 222.5,501.5 223.5,498.5 223.5,495.5 224.5,492.5 225.5,490.5 226.5,493.5 227.5,496.5 228.5,499.5 228.5,501.5 229.5,504.5 233.5,504.5 233.5,499.5 234.5,492.5 235.5,483.5 235.5,471.5 236.5,458.5 237.5,442.5 238.5,426.5 238.5,409.5 239.5,393.5 240.5,379.5 240.5,370.5 241.5,364.5 242.5,364.5 243.5,365.5 243.5,369.5 244.5,374.5 245.5,381.5 245.5,389.5 246.5,397.5 247.5,407.5 248.5,417.5 248.5,427.5 249.5,437.5 250.5,447.5 250.5,456.5 251.5,464.5 252.5,472.5 252.5,479.5 253.5,485.5 254.5,490.5 255.5,495.5 255.5,499.5 256.5,502.5 257.5,503.5 284.5,503.5 284.5,502.5 285.5,503.5 286.5,503.5 287.5,502.5 287.5,501.5 289.5,501.5 289.5,502.5 290.5,503.5 291.5,502.5 292.5,501.5 292.5,502.5 293.5,503.5 299.5,503.5 299.5,502.5 300.5,500.5 301.5,496.5 301.5,493.5 302.5,490.5 303.5,488.5 304.5,488.5 304.5,490.5 305.5,493.5 306.5,495.5 306.5,498.5 307.5,500.5 308.5,502.5 309.5,503.5 314.5,503.5 314.5,502.5 315.5,502.5 316.5,503.5 328.5,503.5 328.5,502.5 329.5,501.5 330.5,502.5 331.5,502.5 331.5,503.5 332.5,504.5 346.5,504.5 347.5,503.5 348.5,502.5 349.5,503.5 350.5,503.5 350.5,504.5 351.5,504.5 352.5,503.5 353.5,503.5 353.5,502.5 355.5,502.5 355.5,503.5 356.5,504.5 365.5,504.5 365.5,502.5 366.5,500.5 367.5,497.5 367.5,495.5 368.5,494.5 369.5,494.5 370.5,495.5 370.5,496.5 371.5,497.5 372.5,498.5 372.5,499.5 373.5,501.5 374.5,502.5 375.5,503.5 376.5,503.5 377.5,504.5 378.5,504.5 379.5,503.5 380.5,503.5 380.5,504.5 385.5,504.5 385.5,503.5 387.5,503.5 387.5,504.5 407.5,504.5 408.5,500.5 409.5,494.5 409.5,487.5 410.5,479.5 411.5,469.5 412.5,459.5 412.5,449.5 413.5,440.5 414.5,431.5 414.5,425.5 415.5,422.5 416.5,422.5 417.5,424.5 418.5,427.5 419.5,430.5 419.5,434.5 420.5,439.5 421.5,444.5 421.5,449.5 422.5,454.5 423.5,460.5 424.5,465.5 424.5,470.5 425.5,466.5 426.5,461.5 426.5,456.5 427.5,451.5 428.5,447.5 429.5,443.5 429.5,441.5 430.5,441.5 431.5,443.5 431.5,445.5 432.5,448.5 433.5,451.5 434.5,455.5 434.5,458.5 435.5,461.5 436.5,465.5 436.5,468.5 437.5,472.5 438.5,475.5 438.5,478.5 439.5,481.5 440.5,484.5 441.5,486.5 441.5,489.5 442.5,490.5 443.5,491.5 443.5,492.5 444.5,494.5 445.5,496.5 446.5,497.5 447.5,497.5 448.5,496.5 448.5,491.5 449.5,486.5 450.5,480.5 451.5,474.5 451.5,468.5 452.5,462.5 453.5,457.5 454.5,460.5 455.5,464.5 456.5,469.5 456.5,474.5 457.5,460.5 458.5,443.5 458.5,427.5 459.5,411.5 460.5,399.5 461.5,391.5 461.5,389.5 462.5,392.5 463.5,400.5 463.5,412.5 464.5,426.5 465.5,441.5 465.5,456.5 466.5,470.5 467.5,469.5 468.5,457.5 468.5,442.5 469.5,426.5 470.5,409.5 470.5,390.5 471.5,370.5 472.5,350.5 473.5,331.5 473.5,313.5 474.5,298.5 475.5,285.5 475.5,277.5 476.5,272.5 477.5,272.5 478.5,273.5 478.5,276.5 479.5,280.5 480.5,286.5 480.5,293.5 481.5,301.5 482.5,310.5 483.5,319.5 483.5,330.5 484.5,341.5 485.5,352.5 485.5,363.5 486.5,375.5 487.5,386.5 487.5,397.5 488.5,405.5 489.5,385.5 490.5,365.5 490.5,346.5 491.5,329.5 492.5,315.5 492.5,305.5 493.5,300.5 494.5,300.5 495.5,304.5 495.5,312.5 496.5,322.5 497.5,336.5 497.5,351.5 498.5,368.5 499.5,385.5 500.5,403.5 500.5,419.5 501.5,435.5 502.5,446.5 502.5,447.5 503.5,448.5 504.5,448.5 505.5,449.5 505.5,450.5 506.5,451.5 507.5,452.5 507.5,453.5 508.5,453.5 509.5,454.5 509.5,455.5 510.5,453.5 511.5,438.5 512.5,423.5 512.5,406.5 513.5,388.5 514.5,369.5 514.5,352.5 515.5,335.5 516.5,321.5 517.5,309.5 517.5,300.5 518.5,295.5 519.5,295.5 519.5,296.5 520.5,299.5 521.5,303.5 522.5,309.5 522.5,316.5 523.5,324.5 524.5,334.5 524.5,344.5 525.5,354.5 526.5,365.5 527.5,377.5 527.5,388.5 528.5,399.5 529.5,410.5 529.5,421.5 530.5,431.5 531.5,433.5 532.5,426.5 532.5,420.5 533.5,414.5 534.5,409.5 534.5,405.5 535.5,402.5 536.5,400.5 537.5,400.5 538.5,401.5 539.5,403.5 539.5,405.5 540.5,409.5 541.5,412.5 541.5,417.5 542.5,421.5 543.5,427.5 544.5,432.5 544.5,437.5 545.5,443.5 546.5,449.5 546.5,454.5 547.5,460.5 548.5,465.5 549.5,470.5 549.5,475.5 550.5,480.5 551.5,484.5 551.5,488.5 552.5,491.5 553.5,494.5 554.5,497.5 555.5,498.5 558.5,498.5 559.5,495.5 560.5,489.5 561.5,483.5 561.5,475.5 562.5,466.5 563.5,456.5 563.5,444.5 564.5,432.5 565.5,419.5 566.5,405.5 566.5,391.5 567.5,378.5 568.5,365.5 568.5,354.5 569.5,344.5 570.5,337.5 571.5,332.5 571.5,330.5 572.5,330.5 573.5,331.5 573.5,335.5 574.5,339.5 575.5,344.5 576.5,351.5 576.5,359.5 577.5,367.5 578.5,376.5 578.5,385.5 579.5,395.5 580.5,405.5 580.5,415.5 581.5,424.5 582.5,433.5 583.5,442.5 583.5,451.5 584.5,458.5 585.5,466.5 585.5,472.5 586.5,478.5 587.5,483.5 588.5,488.5 588.5,492.5 589.5,496.5 590.5,498.5 591.5,498.5 592.5,496.5 593.5,494.5 593.5,490.5 594.5,487.5 595.5,484.5 595.5,480.5 596.5,476.5 597.5,472.5 598.5,468.5 598.5,465.5 599.5,462.5 600.5,461.5 600.5,462.5 601.5,464.5 602.5,467.5 603.5,469.5 603.5,472.5 604.5,475.5 605.5,473.5 605.5,469.5 606.5,467.5 607.5,469.5 607.5,471.5 608.5,474.5 609.5,477.5 610.5,481.5 610.5,484.5 611.5,488.5 612.5,491.5 612.5,494.5 613.5,493.5 614.5,489.5 615.5,484.5 615.5,480.5 616.5,475.5 617.5,471.5 617.5,468.5 618.5,469.5 619.5,472.5 620.5,475.5 620.5,479.5 621.5,483.5 622.5,486.5 622.5,490.5 623.5,493.5 624.5,496.5 625.5,497.5 625.5,496.5 626.5,493.5 627.5,489.5 627.5,484.5 628.5,480.5 629.5,476.5 629.5,473.5 630.5,474.5 631.5,476.5 632.5,479.5 632.5,483.5 633.5,486.5 634.5,481.5 634.5,475.5 635.5,469.5 636.5,462.5 637.5,454.5 637.5,446.5 638.5,439.5 639.5,431.5 639.5,425.5 640.5,420.5 641.5,420.5 642.5,424.5 642.5,429.5 643.5,435.5 644.5,441.5 644.5,447.5 645.5,454.5 646.5,460.5 647.5,466.5 647.5,467.5 648.5,467.5 649.5,466.5 649.5,465.5 650.5,465.5 651.5,464.5 652.5,464.5 653.5,457.5 654.5,448.5 654.5,441.5 655.5,435.5 656.5,431.5 656.5,430.5 657.5,430.5 658.5,433.5 659.5,437.5 659.5,443.5 660.5,449.5 661.5,456.5 661.5,464.5 662.5,470.5 663.5,471.5 664.5,472.5 665.5,473.5 666.5,473.5 666.5,474.5 667.5,475.5 668.5,475.5 669.5,476.5 669.5,477.5 670.5,477.5 671.5,478.5 671.5,479.5 672.5,479.5 673.5,480.5 674.5,481.5 675.5,482.5 676.5,483.5 677.5,484.5 678.5,483.5 678.5,478.5 679.5,473.5 680.5,468.5 681.5,464.5 681.5,460.5 682.5,457.5 683.5,455.5 684.5,455.5 685.5,456.5 686.5,458.5 686.5,460.5 687.5,463.5 688.5,466.5 688.5,470.5 689.5,474.5 690.5,478.5 691.5,482.5 691.5,486.5 692.5,490.5 693.5,493.5 693.5,497.5 694.5,496.5 695.5,495.5 696.5,493.5 696.5,491.5 698.5,491.5 699.5,492.5 700.5,492.5 700.5,493.5 701.5,494.5 702.5,495.5 703.5,495.5 703.5,496.5 704.5,497.5 705.5,498.5 722.5,498.5 722.5,499.5 727.5,499.5 727.5,500.5 731.5,500.5 732.5,501.5 735.5,501.5 736.5,502.5 740.5,502.5 740.5,503.5 744.5,503.5 745.5,504.5 748.5,504.5 749.5,505.5 752.5,505.5 753.5,506.5 760.5,506.5 761.5,505.5 762.5,503.5 763.5,503.5 764.5,504.5 764.5,505.5 765.5,506.5 767.5,506.5 768.5,505.5 769.5,504.5 770.5,505.5 771.5,506.5 781.5,506.5 782.5,505.5 783.5,502.5 784.5,499.5 784.5,496.5 785.5,493.5 786.5,491.5 786.5,490.5 787.5,491.5 788.5,493.5 789.5,496.5 789.5,499.5 790.5,501.5 791.5,502.5 791.5,503.5 792.5,504.5 793.5,506.5 797.5,506.5 798.5,504.5 799.5,505.5 800.5,506.5 802.5,506.5 803.5,505.5 803.5,504.5 804.5,504.5 805.5,505.5 806.5,506.5 810.5,506.5 811.5,505.5 812.5,506.5 818.5,506.5 818.5,505.5 819.5,505.5 820.5,504.5 820.5,503.5 821.5,503.5 822.5,502.5 823.5,502.5 823.5,501.5 824.5,500.5 825.5,500.5 825.5,499.5 826.5,499.5 827.5,498.5 828.5,498.5 828.5,497.5 830.5,497.5 831.5,498.5 832.5,498.5 833.5,499.5 834.5,500.5 835.5,501.5 836.5,502.5 837.5,503.5 838.5,503.5 838.5,504.5 839.5,505.5 840.5,505.5 840.5,506.5 841.5,506.5 842.5,507.5 842.5,506.5 843.5,506.5 844.5,505.5 845.5,503.5 847.5,503.5 848.5,504.5 849.5,505.5 850.5,506.5 850.5,507.5 851.5,507.5 852.5,508.5 854.5,508.5 855.5,509.5 857.5,509.5 857.5,510.5 860.5,510.5 861.5,511.5 863.5,511.5 864.5,512.5 898.5,512.5 899.5,513.5 1018.5,513.5"/>
<polyline stroke="#E41A1C" stroke-opacity="0.76" points="112.5,511.5 150.5,511.5 151.5,510.5 152.5,509.5 152.5,507.5 153.5,504.5 154.5,502.5 154.5,498.5 155.5,496.5 156.5,494.5 157.5,495.5 157.5,497.5 158.5,500.5 159.5,502.5 159.5,504.5 160.5,506.5 161.5,508.5 162.5,510.5 162.5,511.5 179.5,511.5 180.5,510.5 181.5,510.5 181.5,509.5 182.5,507.5 183.5,504.5 184.5,501.5 184.5,498.5 185.5,493.5 186.5,488.5 186.5,481.5 187.5,474.5 188.5,465.5 189.5,456.5 189.5,446.5 190.5,436.5 191.5,425.5 191.5,415.5 192.5,405.5 193.5,396.5 194.5,388.5 194.5,382.5 195.5,378.5 196.5,376.5 197.5,377.5 198.5,380.5 199.5,384.5 199.5,389.5 200.5,396.5 201.5,403.5 201.5,411.5 202.5,419.5 203.5,427.5 203.5,436.5 204.5,444.5 205.5,452.5 206.5,460.5 206.5,467.5 207.5,474.5 208.5,480.5 208.5,485.5 209.5,490.5 210.5,494.5 211.5,498.5 211.5,501.5 212.5,503.5 213.5,505.5 213.5,507.5 214.5,509.5 215.5,510.5 219.5,510.5 220.5,509.5 221.5,507.5 221.5,505.5 222.5,503.5 223.5,500.5 223.5,497.5 224.5,494.5 225.5,494.5 225.5,496.5 226.5,498.5 227.5,500.5 228.5,502.5 228.5,504.5 229.5,506.5 230.5,508.5 230.5,509.5 231.5,509.5 232.5,506.5 233.5,501.5 233.5,494.5 234.5,485.5 235.5,473.5 235.5,459.5 236.5,443.5 237.5,426.5 238.5,410.5 238.5,396.5 239.5,385.5 240.5,380.5 241.5,382.5 242.5,387.5 243.5,394.5 243.5,402.5 244.5,411.5 245.5,421.5 245.5,432.5 246.5,442.5 247.5,453.5 248.5,462.5 248.5,471.5 249.5,479.5 250.5,486.5 250.5,492.5 251.5,497.5 252.5,501.5 252.5,504.5 253.5,507.5 254.5,508.5 255.5,510.5 256.5,510.5 257.5,509.5 258.5,508.5 260.5,508.5 260.5,509.5 262.5,509.5 262.5,510.5 287.5,510.5 287.5,509.5 288.5,509.5 289.5,508.5 290.5,507.5 291.5,507.5 292.5,508.5 293.5,509.5 294.5,508.5 295.5,509.5 296.5,509.5 296.5,510.5 299.5,510.5 299.5,509.5 300.5,507.5 301.5,505.5 301.5,503.5 302.5,501.5 303.5,498.5 304.5,496.5 304.5,495.5 305.5,495.5 306.5,497.5 306.5,498.5 307.5,500.5 308.5,502.5 309.5,504.5 309.5,505.5 310.5,507.5 311.5,508.5 311.5,509.5 313.5,509.5 314.5,510.5 332.5,510.5 333.5,509.5 334.5,509.5 335.5,508.5 336.5,508.5 337.5,509.5 338.5,509.5 338.5,510.5 348.5,510.5 349.5,509.5 350.5,509.5 350.5,508.5 352.5,508.5 353.5,509.5 354.5,509.5 355.5,508.5 358.5,508.5 358.5,509.5 361.5,509.5 362.5,510.5 395.5,510.5 396.5,509.5 398.5,509.5 399.5,508.5 400.5,508.5 401.5,509.5 402.5,506.5 402.5,501.5 403.5,495.5 404.5,487.5 404.5,475.5 405.5,462.5 406.5,446.5 407.5,428.5 407.5,410.5 408.5,393.5 409.5,378.5 409.5,367.5 410.5,360.5 411.5,360.5 412.5,361.5 412.5,364.5 413.5,369.5 414.5,375.5 414.5,382.5 415.5,391.5 416.5,399.5 416.5,409.5 417.5,419.5 418.5,428.5 419.5,438.5 419.5,447.5 420.5,456.5 421.5,464.5 421.5,471.5 422.5,478.5 423.5,474.5 424.5,470.5 424.5,465.5 425.5,461.5 426.5,456.5 426.5,452.5 427.5,448.5 428.5,446.5 429.5,445.5 429.5,447.5 430.5,449.5 431.5,451.5 431.5,454.5 432.5,457.5 433.5,461.5 434.5,464.5 434.5,467.5 435.5,470.5 436.5,474.5 436.5,477.5 437.5,480.5 438.5,482.5 438.5,485.5 439.5,488.5 440.5,490.5 441.5,488.5 441.5,485.5 442.5,483.5 443.5,482.5 443.5,484.5 444.5,486.5 445.5,488.5 446.5,486.5 446.5,482.5 447.5,478.5 448.5,475.5 448.5,476.5 449.5,478.5 450.5,481.5 451.5,484.5 451.5,487.5 452.5,490.5 453.5,493.5 453.5,496.5 454.5,499.5 455.5,501.5 456.5,502.5 456.5,498.5 457.5,490.5 458.5,481.5 458.5,471.5 459.5,460.5 460.5,449.5 461.5,440.5 461.5,433.5 462.5,430.5 463.5,431.5 463.5,435.5 464.5,442.5 465.5,451.5 465.5,461.5 466.5,471.5 467.5,481.5 468.5,489.5 468.5,483.5 469.5,474.5 470.5,464.5 470.5,452.5 471.5,438.5 472.5,423.5 473.5,407.5 473.5,390.5 474.5,374.5 475.5,358.5 475.5,344.5 476.5,331.5 477.5,321.5 478.5,315.5 478.5,312.5 479.5,312.5 480.5,313.5 480.5,316.5 481.5,320.5 482.5,326.5 483.5,332.5 483.5,340.5 484.5,348.5 485.5,357.5 485.5,366.5 486.5,376.5 487.5,386.5 487.5,396.5 488.5,406.5 489.5,413.5 490.5,414.5 491.5,414.5 492.5,415.5 493.5,416.5 494.5,417.5 495.5,418.5 496.5,419.5 497.5,420.5 497.5,421.5 498.5,414.5 499.5,406.5 500.5,398.5 500.5,393.5 501.5,390.5 502.5,390.5 502.5,391.5 503.5,394.5 504.5,398.5 505.5,403.5 505.5,410.5 506.5,418.5 507.5,426.5 507.5,434.5 508.5,437.5 509.5,438.5 509.5,439.5 510.5,440.5 511.5,442.5 512.5,443.5 512.5,444.5 513.5,445.5 514.5,446.5 514.5,445.5 515.5,432.5 516.5,418.5 517.5,404.5 517.5,389.5 518.5,374.5 519.5,361.5 519.5,348.5 520.5,338.5 521.5,330.5 522.5,324.5 522.5,322.5 523.5,322.5 524.5,324.5 524.5,328.5 525.5,334.5 526.5,341.5 527.5,349.5 527.5,359.5 528.5,369.5 529.5,380.5 529.5,392.5 530.5,403.5 531.5,415.5 532.5,426.5 532.5,436.5 533.5,446.5 534.5,455.5 534.5,464.5 535.5,471.5 536.5,478.5 536.5,479.5 537.5,479.5 538.5,480.5 539.5,481.5 539.5,482.5 540.5,482.5 541.5,478.5 541.5,472.5 542.5,465.5 543.5,459.5 544.5,452.5 544.5,446.5 545.5,440.5 546.5,434.5 546.5,430.5 547.5,427.5 548.5,425.5 549.5,425.5 550.5,426.5 551.5,428.5 551.5,431.5 552.5,434.5 553.5,438.5 554.5,442.5 554.5,447.5 555.5,452.5 556.5,457.5 556.5,462.5 557.5,467.5 558.5,472.5 558.5,477.5 559.5,482.5 560.5,486.5 561.5,490.5 561.5,493.5 562.5,496.5 563.5,499.5 563.5,501.5 564.5,501.5 565.5,500.5 566.5,496.5 566.5,490.5 567.5,484.5 568.5,477.5 568.5,468.5 569.5,459.5 570.5,448.5 571.5,437.5 571.5,425.5 572.5,413.5 573.5,400.5 573.5,389.5 574.5,378.5 575.5,369.5 576.5,361.5 576.5,355.5 577.5,352.5 578.5,352.5 579.5,354.5 580.5,357.5 580.5,361.5 581.5,365.5 582.5,371.5 583.5,377.5 583.5,383.5 584.5,390.5 585.5,398.5 585.5,406.5 586.5,413.5 587.5,421.5 588.5,429.5 588.5,437.5 589.5,444.5 590.5,451.5 590.5,458.5 591.5,464.5 592.5,470.5 593.5,475.5 593.5,471.5 594.5,466.5 595.5,461.5 595.5,456.5 596.5,451.5 597.5,447.5 598.5,444.5 599.5,447.5 600.5,450.5 600.5,453.5 601.5,457.5 602.5,460.5 603.5,464.5 603.5,468.5 604.5,472.5 605.5,476.5 605.5,479.5 606.5,482.5 607.5,486.5 607.5,482.5 608.5,478.5 609.5,474.5 610.5,471.5 611.5,473.5 612.5,475.5 612.5,478.5 613.5,481.5 614.5,484.5 615.5,487.5 615.5,490.5 616.5,493.5 617.5,496.5 617.5,495.5 618.5,492.5 619.5,489.5 620.5,486.5 620.5,484.5 621.5,484.5 622.5,486.5 622.5,488.5 623.5,490.5 624.5,492.5 625.5,488.5 625.5,484.5 626.5,480.5 627.5,477.5 628.5,479.5 629.5,481.5 629.5,484.5 630.5,487.5 631.5,490.5 632.5,493.5 632.5,496.5 633.5,498.5 634.5,498.5 634.5,497.5 635.5,496.5 636.5,495.5 637.5,493.5 637.5,490.5 638.5,485.5 639.5,481.5 639.5,475.5 640.5,470.5 641.5,464.5 642.5,459.5 642.5,453.5 643.5,449.5 644.5,445.5 644.5,446.5 645.5,449.5 646.5,453.5 647.5,457.5 647.5,461.5 648.5,466.5 649.5,470.5 649.5,475.5 650.5,468.5 651.5,462.5 651.5,457.5 652.5,453.5 653.5,450.5 654.5,450.5 655.5,452.5 656.5,455.5 656.5,459.5 657.5,464.5 658.5,466.5 659.5,465.5 660.5,464.5 663.5,464.5 664.5,465.5 665.5,465.5 666.5,466.5 667.5,467.5 668.5,467.5 669.5,468.5 669.5,469.5 670.5,469.5 671.5,470.5 671.5,471.5 672.5,471.5 673.5,472.5 674.5,473.5 675.5,474.5 676.5,475.5 677.5,476.5 678.5,477.5 678.5,478.5 679.5,478.5 680.5,479.5 681.5,480.5 681.5,481.5 682.5,481.5 683.5,482.5 683.5,480.5 684.5,476.5 685.5,472.5 686.5,469.5 686.5,466.5 687.5,465.5 688.5,465.5 689.5,466.5 690.5,467.5 691.5,469.5 691.5,472.5 692.5,474.5 693.5,477.5 693.5,480.5 694.5,483.5 695.5,486.5 696.5,490.5 696.5,492.5 697.5,495.5 698.5,495.5 698.5,496.5 699.5,496.5 700.5,497.5 701.5,498.5 702.5,496.5 703.5,494.5 703.5,492.5 704.5,490.5 705.5,489.5 706.5,489.5 707.5,490.5 708.5,491.5 708.5,492.5 709.5,493.5 710.5,494.5 710.5,495.5 711.5,496.5 712.5,497.5 713.5,498.5 713.5,499.5 714.5,500.5 715.5,501.5 715.5,502.5 716.5,503.5 717.5,504.5 718.5,504.5 718.5,505.5 724.5,505.5 725.5,506.5 730.5,506.5 731.5,507.5 737.5,507.5 737.5,508.5 744.5,508.5 745.5,509.5 750.5,509.5 751.5,510.5 766.5,510.5 767.5,509.5 767.5,508.5 769.5,508.5 770.5,509.5 771.5,509.5 771.5,510.5 772.5,509.5 773.5,508.5 774.5,507.5 775.5,506.5 776.5,505.5 776.5,506.5 777.5,506.5 778.5,507.5 779.5,508.5 780.5,509.5 781.5,510.5 793.5,510.5 794.5,509.5 795.5,508.5 796.5,507.5 796.5,506.5 797.5,506.5 798.5,507.5 798.5,508.5 799.5,509.5 800.5,509.5 801.5,508.5 802.5,507.5 803.5,508.5 803.5,509.5 804.5,508.5 805.5,508.5 806.5,507.5 807.5,508.5 808.5,509.5 808.5,508.5 809.5,508.5 810.5,507.5 812.5,507.5 813.5,506.5 813.5,505.5 814.5,505.5 815.5,504.5 816.5,503.5 817.5,502.5 818.5,501.5 819.5,500.5 820.5,499.5 823.5,499.5 824.5,500.5 825.5,500.5 825.5,501.5 826.5,501.5 827.5,502.5 828.5,502.5 828.5,503.5 829.5,503.5 830.5,504.5 831.5,505.5 832.5,505.5 833.5,506.5 834.5,507.5 835.5,507.5 835.5,508.5 837.5,508.5 838.5,509.5 839.5,509.5 840.5,510.5 842.5,510.5 843.5,509.5 844.5,509.5 845.5,508.5 845.5,506.5 846.5,505.5 847.5,505.5 848.5,507.5 849.5,509.5 850.5,510.5 853.5,510.5 854.5,509.5 857.5,509.5 858.5,510.5 861.5,510.5 862.5,511.5 864.5,511.5 864.5,512.5 899.5,512.5 900.5,513.5 918.5,513.5 919.5,512.5 994.5,512.5 994.5,511.5 1018.5,511.5"/>
<polyline stroke="#377EB8" stroke-opacity="0.76" points="112.5,474.5 113.5,473.5 114.5,472.5 115.5,472.5 115.5,471.5 116.5,471.5 117.5,470.5 118.5,470.5 118.5,469.5 119.5,469.5 120.5,468.5 121.5,467.5 122.5,467.5 123.5,466.5 124.5,466.5 125.5,465.5 128.5,465.5 129.5,466.5 130.5,467.5 130.5,469.5 131.5,471.5 132.5,474.5 132.5,476.5 133.5,478.5 134.5,481.5 135.5,483.5 135.5,485.5 136.5,487.5 137.5,489.5 137.5,491.5 138.5,493.5 139.5,495.5 140.5,496.5 150.5,496.5 150.5,494.5 151.5,489.5 152.5,484.5 152.5,478.5 153.5,474.5 154.5,475.5 154.5,478.5 155.5,482.5 156.5,487.5 157.5,491.5 157.5,495.5 158.5,496.5 175.5,496.5 176.5,497.5 177.5,499.5 177.5,500.5 178.5,501.5 179.5,502.5 179.5,501.5 180.5,497.5 181.5,491.5 181.5,484.5 182.5,476.5 183.5,466.5 184.5,454.5 184.5,440.5 185.5,425.5 186.5,409.5 186.5,392.5 187.5,374.5 188.5,357.5 189.5,341.5 189.5,327.5 190.5,315.5 191.5,306.5 191.5,301.5 192.5,299.5 193.5,301.5 194.5,305.5 194.5,313.5 195.5,324.5 196.5,336.5 196.5,350.5 197.5,365.5 198.5,381.5 199.5,397.5 199.5,413.5 200.5,427.5 201.5,441.5 201.5,453.5 202.5,464.5 203.5,474.5 203.5,482.5 204.5,489.5 205.5,495.5 206.5,499.5 206.5,500.5 210.5,500.5 211.5,499.5 220.5,499.5 221.5,494.5 221.5,489.5 222.5,484.5 223.5,477.5 223.5,471.5 224.5,467.5 225.5,466.5 225.5,470.5 226.5,475.5 227.5,480.5 228.5,485.5 228.5,490.5 229.5,495.5 230.5,495.5 230.5,488.5 231.5,477.5 232.5,464.5 233.5,448.5 233.5,429.5 234.5,407.5 235.5,383.5 235.5,357.5 236.5,331.5 237.5,306.5 238.5,284.5 238.5,266.5 239.5,253.5 240.5,247.5 241.5,252.5 242.5,262.5 243.5,276.5 243.5,293.5 244.5,313.5 245.5,335.5 245.5,357.5 246.5,379.5 247.5,400.5 248.5,419.5 248.5,437.5 249.5,452.5 250.5,465.5 250.5,476.5 251.5,485.5 252.5,493.5 252.5,497.5 262.5,497.5 263.5,496.5 264.5,497.5 272.5,497.5 272.5,496.5 273.5,495.5 274.5,494.5 274.5,495.5 275.5,497.5 285.5,497.5 286.5,496.5 287.5,496.5 287.5,497.5 291.5,497.5 292.5,496.5 292.5,495.5 293.5,494.5 294.5,495.5 294.5,496.5 295.5,497.5 300.5,497.5 301.5,493.5 301.5,490.5 302.5,487.5 303.5,486.5 304.5,487.5 304.5,490.5 305.5,492.5 306.5,495.5 306.5,497.5 307.5,497.5 308.5,496.5 309.5,496.5 310.5,497.5 319.5,497.5 320.5,495.5 321.5,495.5 321.5,497.5 329.5,497.5 330.5,494.5 331.5,490.5 331.5,486.5 332.5,482.5 333.5,478.5 333.5,473.5 334.5,469.5 335.5,465.5 336.5,462.5 336.5,460.5 337.5,462.5 338.5,467.5 338.5,472.5 339.5,477.5 340.5,473.5 341.5,469.5 341.5,466.5 342.5,468.5 343.5,470.5 343.5,472.5 344.5,475.5 345.5,479.5 345.5,482.5 346.5,485.5 347.5,488.5 348.5,487.5 348.5,485.5 349.5,485.5 350.5,486.5 350.5,488.5 351.5,490.5 352.5,491.5 353.5,493.5 353.5,495.5 354.5,497.5 367.5,497.5 367.5,496.5 368.5,494.5 369.5,492.5 370.5,491.5 370.5,490.5 371.5,490.5 372.5,491.5 372.5,492.5 373.5,493.5 374.5,494.5 375.5,495.5 375.5,497.5 397.5,497.5 398.5,496.5 399.5,495.5 400.5,497.5 402.5,497.5 402.5,494.5 403.5,483.5 404.5,469.5 404.5,451.5 405.5,429.5 406.5,404.5 407.5,377.5 407.5,350.5 408.5,326.5 409.5,307.5 409.5,295.5 410.5,292.5 411.5,296.5 412.5,307.5 412.5,304.5 413.5,290.5 414.5,280.5 414.5,276.5 415.5,278.5 416.5,284.5 416.5,294.5 417.5,308.5 418.5,325.5 419.5,344.5 419.5,364.5 420.5,385.5 421.5,405.5 421.5,423.5 422.5,440.5 423.5,455.5 424.5,454.5 424.5,449.5 425.5,445.5 426.5,442.5 427.5,443.5 428.5,445.5 429.5,448.5 429.5,451.5 430.5,454.5 431.5,458.5 431.5,461.5 432.5,464.5 433.5,468.5 434.5,471.5 434.5,474.5 435.5,478.5 436.5,481.5 436.5,483.5 437.5,486.5 438.5,489.5 438.5,491.5 439.5,493.5 442.5,493.5 443.5,490.5 443.5,488.5 444.5,488.5 445.5,490.5 446.5,491.5 446.5,493.5 448.5,493.5 449.5,490.5 450.5,484.5 451.5,478.5 451.5,471.5 452.5,464.5 453.5,458.5 453.5,452.5 454.5,451.5 455.5,454.5 456.5,458.5 456.5,463.5 457.5,457.5 458.5,438.5 458.5,418.5 459.5,398.5 460.5,381.5 461.5,368.5 461.5,362.5 462.5,363.5 463.5,370.5 463.5,382.5 464.5,398.5 465.5,416.5 465.5,435.5 466.5,452.5 467.5,468.5 468.5,481.5 468.5,479.5 469.5,470.5 470.5,460.5 470.5,448.5 471.5,435.5 472.5,419.5 473.5,401.5 473.5,382.5 474.5,361.5 475.5,338.5 475.5,314.5 476.5,288.5 477.5,262.5 478.5,236.5 478.5,211.5 479.5,186.5 480.5,163.5 480.5,143.5 481.5,125.5 482.5,110.5 483.5,99.5 483.5,93.5 484.5,90.5 485.5,91.5 485.5,94.5 486.5,100.5 487.5,108.5 487.5,118.5 488.5,129.5 489.5,143.5 490.5,158.5 490.5,174.5 491.5,192.5 492.5,210.5 492.5,229.5 493.5,248.5 494.5,267.5 495.5,286.5 495.5,305.5 496.5,323.5 497.5,307.5 497.5,288.5 498.5,273.5 499.5,264.5 500.5,262.5 500.5,266.5 501.5,278.5 502.5,285.5 502.5,266.5 503.5,277.5 504.5,282.5 505.5,268.5 505.5,262.5 506.5,262.5 507.5,268.5 507.5,278.5 508.5,292.5 509.5,310.5 509.5,330.5 510.5,351.5 511.5,373.5 512.5,394.5 512.5,414.5 513.5,433.5 514.5,449.5 514.5,453.5 515.5,455.5 516.5,456.5 517.5,457.5 517.5,458.5 518.5,456.5 519.5,440.5 519.5,423.5 520.5,403.5 521.5,381.5 522.5,357.5 522.5,331.5 523.5,305.5 524.5,280.5 524.5,255.5 525.5,233.5 526.5,214.5 527.5,199.5 527.5,188.5 528.5,183.5 529.5,182.5 529.5,185.5 530.5,189.5 531.5,196.5 532.5,205.5 532.5,215.5 533.5,228.5 534.5,241.5 534.5,256.5 535.5,272.5 536.5,288.5 536.5,305.5 537.5,310.5 538.5,297.5 539.5,284.5 539.5,274.5 540.5,266.5 541.5,260.5 541.5,257.5 542.5,256.5 543.5,257.5 544.5,260.5 544.5,264.5 545.5,269.5 546.5,276.5 546.5,284.5 547.5,293.5 548.5,303.5 549.5,314.5 549.5,325.5 550.5,337.5 551.5,348.5 551.5,360.5 552.5,372.5 553.5,384.5 554.5,396.5 554.5,407.5 555.5,418.5 556.5,428.5 556.5,437.5 557.5,446.5 558.5,454.5 558.5,462.5 559.5,468.5 560.5,475.5 561.5,480.5 561.5,473.5 562.5,465.5 563.5,455.5 563.5,444.5 564.5,432.5 565.5,418.5 566.5,403.5 566.5,387.5 567.5,369.5 568.5,350.5 568.5,330.5 569.5,309.5 570.5,288.5 571.5,266.5 571.5,244.5 572.5,223.5 573.5,202.5 573.5,183.5 574.5,165.5 575.5,149.5 576.5,135.5 576.5,124.5 577.5,116.5 578.5,111.5 578.5,108.5 579.5,109.5 580.5,112.5 580.5,116.5 581.5,123.5 582.5,131.5 583.5,141.5 583.5,153.5 584.5,166.5 585.5,180.5 585.5,196.5 586.5,212.5 587.5,228.5 588.5,246.5 588.5,263.5 589.5,280.5 590.5,298.5 590.5,315.5 591.5,331.5 592.5,347.5 593.5,363.5 593.5,377.5 594.5,391.5 595.5,404.5 595.5,416.5 596.5,428.5 597.5,438.5 598.5,447.5 598.5,456.5 599.5,463.5 600.5,463.5 600.5,460.5 601.5,458.5 602.5,459.5 603.5,454.5 603.5,450.5 604.5,450.5 605.5,452.5 605.5,456.5 606.5,461.5 607.5,465.5 607.5,470.5 608.5,475.5 609.5,479.5 610.5,484.5 610.5,487.5 611.5,491.5 612.5,492.5 612.5,487.5 613.5,482.5 614.5,476.5 615.5,470.5 615.5,463.5 616.5,458.5 617.5,453.5 618.5,456.5 619.5,461.5 620.5,466.5 620.5,471.5 621.5,476.5 622.5,481.5 622.5,485.5 623.5,487.5 624.5,482.5 625.5,476.5 625.5,470.5 626.5,465.5 627.5,461.5 628.5,464.5 629.5,457.5 629.5,446.5 630.5,435.5 631.5,421.5 632.5,407.5 632.5,391.5 633.5,374.5 634.5,356.5 634.5,337.5 635.5,319.5 636.5,301.5 637.5,285.5 637.5,273.5 638.5,269.5 639.5,278.5 639.5,290.5 640.5,305.5 641.5,320.5 642.5,336.5 642.5,353.5 643.5,369.5 644.5,384.5 644.5,399.5 645.5,412.5 646.5,425.5 647.5,436.5 647.5,424.5 648.5,402.5 649.5,377.5 649.5,351.5 650.5,327.5 651.5,304.5 651.5,286.5 652.5,273.5 653.5,266.5 654.5,266.5 654.5,269.5 655.5,277.5 656.5,288.5 656.5,301.5 657.5,317.5 658.5,334.5 659.5,353.5 659.5,371.5 660.5,390.5 661.5,407.5 661.5,424.5 662.5,439.5 663.5,452.5 664.5,464.5 664.5,472.5 665.5,473.5 666.5,474.5 666.5,475.5 667.5,476.5 668.5,477.5 669.5,478.5 669.5,479.5 670.5,480.5 671.5,481.5 671.5,482.5 672.5,483.5 673.5,484.5 674.5,485.5 674.5,481.5 675.5,471.5 676.5,461.5 676.5,448.5 677.5,435.5 678.5,420.5 678.5,405.5 679.5,390.5 680.5,375.5 681.5,361.5 681.5,349.5 682.5,340.5 683.5,334.5 683.5,330.5 684.5,330.5 685.5,333.5 686.5,338.5 686.5,345.5 687.5,354.5 688.5,364.5 688.5,376.5 689.5,388.5 690.5,401.5 691.5,414.5 691.5,426.5 692.5,438.5 693.5,449.5 693.5,459.5 694.5,469.5 695.5,477.5 696.5,484.5 696.5,483.5 697.5,481.5 698.5,482.5 698.5,483.5 699.5,484.5 700.5,486.5 700.5,487.5 701.5,489.5 702.5,491.5 703.5,493.5 703.5,494.5 704.5,494.5 705.5,489.5 705.5,482.5 706.5,474.5 707.5,465.5 708.5,457.5 708.5,449.5 709.5,446.5 710.5,449.5 710.5,455.5 711.5,461.5 712.5,468.5 713.5,475.5 713.5,481.5 714.5,486.5 715.5,491.5 715.5,495.5 716.5,498.5 719.5,498.5 720.5,499.5 722.5,499.5 722.5,500.5 725.5,500.5 726.5,501.5 728.5,501.5 729.5,502.5 731.5,502.5 732.5,501.5 732.5,499.5 733.5,496.5 734.5,494.5 735.5,492.5 735.5,489.5 736.5,487.5 737.5,485.5 737.5,484.5 738.5,484.5 739.5,485.5 740.5,487.5 740.5,489.5 741.5,491.5 742.5,493.5 742.5,495.5 743.5,497.5 744.5,499.5 745.5,500.5 745.5,502.5 746.5,503.5 747.5,504.5 755.5,504.5 756.5,502.5 757.5,500.5 758.5,501.5 759.5,503.5 759.5,504.5 764.5,504.5 764.5,502.5 765.5,501.5 766.5,500.5 767.5,501.5 767.5,502.5 768.5,503.5 769.5,504.5 774.5,504.5 774.5,505.5 779.5,505.5 779.5,504.5 780.5,504.5 781.5,505.5 801.5,505.5 802.5,504.5 803.5,502.5 804.5,503.5 805.5,505.5 809.5,505.5 810.5,502.5 811.5,501.5 812.5,502.5 813.5,503.5 813.5,504.5 814.5,505.5 815.5,505.5 816.5,503.5 816.5,502.5 817.5,502.5 818.5,503.5 818.5,504.5 819.5,505.5 820.5,505.5 821.5,504.5 822.5,503.5 823.5,503.5 823.5,502.5 824.5,503.5 825.5,504.5 827.5,504.5 828.5,505.5 837.5,505.5 838.5,503.5 838.5,496.5 839.5,486.5 840.5,472.5 840.5,454.5 841.5,432.5 842.5,408.5 842.5,382.5 843.5,358.5 844.5,337.5 845.5,323.5 845.5,318.5 846.5,321.5 847.5,333.5 847.5,351.5 848.5,374.5 849.5,399.5 850.5,423.5 850.5,445.5 851.5,464.5 852.5,480.5 852.5,491.5 853.5,499.5 854.5,505.5 855.5,508.5 855.5,510.5 857.5,510.5 857.5,511.5 867.5,511.5 867.5,512.5 892.5,512.5 893.5,513.5 1018.5,513.5"/>
<polyline stroke="#377EB8" stroke-opacity="0.76" points="112.5,480.5 113.5,479.5 113.5,478.5 114.5,477.5 115.5,477.5 115.5,476.5 116.5,475.5 117.5,474.5 118.5,473.5 118.5,472.5 119.5,472.5 120.5,471.5 120.5,470.5 121.5,469.5 122.5,469.5 123.5,468.5 123.5,467.5 124.5,467.5 125.5,466.5 127.5,466.5 128.5,468.5 128.5,471.5 129.5,474.5 130.5,478.5 130.5,482.5 131.5,485.5 132.5,489.5 132.5,492.5 133.5,495.5 134.5,497.5 135.5,500.5 150.5,500.5 150.5,499.5 151.5,494.5 152.5,489.5 152.5,484.5 153.5,479.5 154.5,478.5 154.5,481.5 155.5,486.5 156.5,490.5 157.5,495.5 157.5,499.5 158.5,500.5 173.5,500.5 174.5,501.5 174.5,502.5 175.5,503.5 176.5,503.5 177.5,504.5 177.5,505.5 178.5,506.5 181.5,506.5 181.5,504.5 182.5,502.5 183.5,498.5 184.5,495.5 184.5,490.5 185.5,484.5 186.5,478.5 186.5,471.5 187.5,463.5 188.5,454.5 189.5,444.5 189.5,434.5 190.5,423.5 191.5,412.5 191.5,401.5 192.5,390.5 193.5,379.5 194.5,370.5 194.5,361.5 195.5,354.5 196.5,348.5 196.5,344.5 197.5,342.5 198.5,342.5 199.5,344.5 199.5,347.5 200.5,353.5 201.5,360.5 201.5,369.5 202.5,378.5 203.5,389.5 203.5,399.5 204.5,411.5 205.5,422.5 206.5,433.5 206.5,443.5 207.5,453.5 208.5,462.5 208.5,470.5 209.5,477.5 210.5,484.5 211.5,489.5 211.5,494.5 212.5,498.5 213.5,501.5 213.5,503.5 217.5,503.5 218.5,502.5 220.5,502.5 221.5,499.5 221.5,494.5 222.5,489.5 223.5,483.5 223.5,478.5 224.5,473.5 225.5,472.5 225.5,475.5 226.5,479.5 227.5,484.5 228.5,488.5 228.5,493.5 229.5,496.5 230.5,500.5 230.5,501.5 234.5,501.5 235.5,495.5 235.5,488.5 236.5,479.5 237.5,468.5 238.5,455.5 238.5,440.5 239.5,423.5 240.5,406.5 240.5,388.5 241.5,371.5 242.5,356.5 243.5,344.5 243.5,336.5 244.5,332.5 245.5,332.5 245.5,337.5 246.5,346.5 247.5,358.5 248.5,373.5 248.5,389.5 249.5,406.5 250.5,423.5 250.5,439.5 251.5,454.5 252.5,466.5 252.5,477.5 253.5,486.5 254.5,494.5 255.5,499.5 284.5,499.5 284.5,498.5 285.5,497.5 286.5,498.5 287.5,499.5 296.5,499.5 297.5,498.5 298.5,498.5 299.5,499.5 301.5,499.5 301.5,496.5 302.5,493.5 303.5,490.5 304.5,490.5 304.5,491.5 305.5,493.5 306.5,496.5 306.5,498.5 307.5,499.5 309.5,499.5 309.5,498.5 310.5,498.5 311.5,499.5 330.5,499.5 331.5,500.5 333.5,500.5 333.5,499.5 334.5,498.5 335.5,498.5 336.5,497.5 336.5,494.5 337.5,492.5 338.5,488.5 338.5,485.5 339.5,482.5 340.5,479.5 341.5,476.5 341.5,474.5 342.5,474.5 343.5,477.5 343.5,481.5 344.5,484.5 345.5,488.5 346.5,485.5 347.5,481.5 348.5,479.5 349.5,481.5 350.5,482.5 350.5,485.5 351.5,487.5 352.5,489.5 353.5,492.5 353.5,494.5 354.5,496.5 355.5,494.5 355.5,493.5 356.5,493.5 357.5,494.5 358.5,496.5 358.5,498.5 359.5,499.5 360.5,500.5 367.5,500.5 367.5,497.5 368.5,495.5 369.5,493.5 370.5,493.5 371.5,495.5 372.5,496.5 372.5,498.5 373.5,500.5 375.5,500.5 376.5,499.5 377.5,499.5 378.5,500.5 382.5,500.5 382.5,499.5 383.5,499.5 384.5,500.5 386.5,500.5 387.5,499.5 387.5,498.5 388.5,498.5 389.5,499.5 390.5,499.5 390.5,498.5 391.5,499.5 392.5,500.5 403.5,500.5 404.5,493.5 404.5,483.5 405.5,469.5 406.5,452.5 407.5,431.5 407.5,407.5 408.5,382.5 409.5,357.5 409.5,335.5 410.5,317.5 411.5,305.5 412.5,302.5 412.5,305.5 413.5,315.5 414.5,330.5 414.5,349.5 415.5,343.5 416.5,325.5 416.5,309.5 417.5,296.5 418.5,287.5 419.5,282.5 420.5,284.5 421.5,289.5 421.5,297.5 422.5,306.5 423.5,317.5 424.5,330.5 424.5,344.5 425.5,358.5 426.5,373.5 426.5,388.5 427.5,402.5 428.5,416.5 429.5,430.5 429.5,442.5 430.5,444.5 431.5,444.5 431.5,446.5 432.5,449.5 433.5,452.5 434.5,455.5 434.5,458.5 435.5,461.5 436.5,464.5 436.5,468.5 437.5,471.5 438.5,474.5 438.5,477.5 439.5,472.5 440.5,468.5 441.5,465.5 441.5,466.5 442.5,469.5 443.5,473.5 443.5,477.5 444.5,481.5 445.5,485.5 446.5,489.5 446.5,492.5 447.5,491.5 448.5,485.5 448.5,478.5 449.5,470.5 450.5,462.5 451.5,453.5 451.5,445.5 452.5,438.5 453.5,435.5 453.5,438.5 454.5,443.5 455.5,450.5 456.5,456.5 456.5,463.5 457.5,469.5 458.5,475.5 458.5,480.5 459.5,485.5 460.5,490.5 461.5,491.5 461.5,481.5 462.5,469.5 463.5,455.5 463.5,440.5 464.5,426.5 465.5,415.5 465.5,407.5 466.5,404.5 467.5,407.5 468.5,413.5 468.5,392.5 469.5,351.5 470.5,305.5 470.5,257.5 471.5,210.5 472.5,169.5 473.5,139.5 473.5,119.5 477.5,119.5 478.5,120.5 478.5,123.5 479.5,130.5 480.5,139.5 480.5,151.5 481.5,165.5 482.5,182.5 483.5,200.5 483.5,219.5 484.5,240.5 485.5,261.5 485.5,282.5 486.5,303.5 487.5,324.5 487.5,344.5 488.5,363.5 489.5,381.5 490.5,397.5 490.5,413.5 491.5,427.5 492.5,437.5 493.5,438.5 494.5,438.5 495.5,439.5 496.5,440.5 497.5,440.5 497.5,441.5 498.5,442.5 499.5,442.5 500.5,443.5 501.5,444.5 502.5,431.5 502.5,412.5 503.5,390.5 504.5,366.5 505.5,340.5 505.5,313.5 506.5,286.5 507.5,258.5 507.5,232.5 508.5,209.5 509.5,188.5 509.5,172.5 510.5,161.5 511.5,155.5 512.5,154.5 512.5,156.5 513.5,161.5 514.5,167.5 514.5,176.5 515.5,186.5 516.5,198.5 517.5,211.5 517.5,226.5 518.5,241.5 519.5,258.5 519.5,275.5 520.5,292.5 521.5,309.5 522.5,326.5 522.5,343.5 523.5,359.5 524.5,374.5 524.5,389.5 525.5,403.5 526.5,416.5 527.5,428.5 527.5,439.5 528.5,449.5 529.5,458.5 529.5,466.5 530.5,473.5 531.5,476.5 532.5,477.5 532.5,478.5 533.5,478.5 534.5,479.5 534.5,480.5 535.5,476.5 536.5,467.5 536.5,456.5 537.5,444.5 538.5,431.5 539.5,417.5 539.5,402.5 540.5,386.5 541.5,371.5 541.5,357.5 542.5,344.5 543.5,332.5 544.5,323.5 544.5,316.5 545.5,312.5 546.5,312.5 546.5,313.5 547.5,315.5 548.5,318.5 549.5,323.5 549.5,328.5 550.5,335.5 551.5,342.5 551.5,350.5 552.5,359.5 553.5,368.5 554.5,378.5 554.5,387.5 555.5,397.5 556.5,407.5 556.5,416.5 557.5,425.5 558.5,434.5 558.5,442.5 559.5,450.5 560.5,451.5 561.5,432.5 561.5,410.5 562.5,384.5 563.5,355.5 563.5,324.5 564.5,290.5 565.5,257.5 566.5,224.5 566.5,193.5 567.5,166.5 568.5,144.5 568.5,129.5 569.5,120.5 571.5,120.5 572.5,119.5 573.5,122.5 573.5,129.5 574.5,139.5 575.5,153.5 576.5,169.5 576.5,189.5 577.5,210.5 578.5,233.5 578.5,257.5 579.5,281.5 580.5,305.5 580.5,328.5 581.5,351.5 582.5,372.5 583.5,392.5 583.5,410.5 584.5,426.5 585.5,415.5 585.5,404.5 586.5,396.5 587.5,391.5 588.5,390.5 589.5,393.5 590.5,397.5 590.5,402.5 591.5,408.5 592.5,414.5 593.5,422.5 593.5,430.5 594.5,438.5 595.5,446.5 595.5,454.5 596.5,462.5 597.5,464.5 598.5,460.5 598.5,457.5 599.5,456.5 600.5,457.5 600.5,459.5 601.5,462.5 602.5,465.5 603.5,468.5 603.5,471.5 604.5,474.5 605.5,478.5 605.5,481.5 606.5,476.5 607.5,470.5 607.5,464.5 608.5,458.5 609.5,453.5 610.5,450.5 610.5,452.5 611.5,455.5 612.5,459.5 612.5,464.5 613.5,468.5 614.5,473.5 615.5,478.5 615.5,482.5 616.5,486.5 617.5,485.5 617.5,481.5 618.5,477.5 619.5,474.5 620.5,474.5 620.5,476.5 621.5,479.5 622.5,482.5 622.5,485.5 623.5,488.5 624.5,492.5 625.5,493.5 625.5,490.5 626.5,488.5 627.5,488.5 627.5,489.5 628.5,491.5 629.5,493.5 629.5,495.5 630.5,492.5 631.5,488.5 632.5,483.5 632.5,478.5 633.5,472.5 634.5,465.5 634.5,458.5 635.5,449.5 636.5,441.5 637.5,432.5 637.5,422.5 638.5,413.5 639.5,404.5 639.5,397.5 640.5,391.5 641.5,391.5 642.5,396.5 642.5,404.5 643.5,412.5 644.5,422.5 644.5,431.5 645.5,440.5 646.5,448.5 647.5,456.5 647.5,464.5 648.5,471.5 649.5,477.5 649.5,482.5 650.5,484.5 651.5,483.5 651.5,481.5 652.5,480.5 653.5,479.5 654.5,478.5 654.5,476.5 655.5,475.5 656.5,470.5 656.5,456.5 657.5,439.5 658.5,419.5 659.5,398.5 659.5,376.5 660.5,355.5 661.5,335.5 661.5,319.5 662.5,307.5 663.5,300.5 664.5,300.5 664.5,303.5 665.5,310.5 666.5,320.5 666.5,333.5 667.5,348.5 668.5,364.5 669.5,381.5 669.5,398.5 670.5,415.5 671.5,430.5 671.5,444.5 672.5,457.5 673.5,469.5 674.5,475.5 674.5,476.5 675.5,477.5 676.5,477.5 676.5,478.5 677.5,478.5 678.5,477.5 678.5,467.5 679.5,456.5 680.5,443.5 681.5,430.5 681.5,415.5 682.5,401.5 683.5,387.5 683.5,374.5 684.5,362.5 685.5,353.5 686.5,347.5 686.5,345.5 687.5,345.5 688.5,347.5 688.5,351.5 689.5,357.5 690.5,364.5 691.5,373.5 691.5,382.5 692.5,392.5 693.5,403.5 693.5,414.5 694.5,424.5 695.5,435.5 696.5,445.5 696.5,454.5 697.5,463.5 698.5,471.5 698.5,476.5 699.5,474.5 700.5,474.5 700.5,475.5 701.5,476.5 702.5,477.5 703.5,478.5 703.5,479.5 704.5,481.5 705.5,482.5 705.5,484.5 706.5,485.5 707.5,487.5 708.5,488.5 708.5,490.5 709.5,491.5 710.5,492.5 710.5,494.5 711.5,495.5 712.5,496.5 713.5,497.5 713.5,499.5 717.5,499.5 718.5,500.5 722.5,500.5 723.5,501.5 727.5,501.5 728.5,499.5 729.5,496.5 730.5,494.5 730.5,491.5 731.5,487.5 732.5,484.5 732.5,480.5 733.5,477.5 734.5,473.5 735.5,470.5 735.5,467.5 736.5,465.5 737.5,466.5 737.5,469.5 738.5,473.5 739.5,475.5 740.5,467.5 740.5,459.5 741.5,452.5 742.5,449.5 742.5,454.5 743.5,461.5 744.5,469.5 745.5,476.5 745.5,483.5 746.5,490.5 747.5,495.5 747.5,499.5 748.5,503.5 749.5,505.5 751.5,505.5 752.5,506.5 756.5,506.5 757.5,505.5 757.5,504.5 758.5,503.5 759.5,503.5 759.5,502.5 760.5,503.5 761.5,505.5 762.5,506.5 786.5,506.5 787.5,504.5 788.5,504.5 789.5,505.5 789.5,506.5 790.5,507.5 791.5,507.5 791.5,506.5 792.5,505.5 793.5,504.5 793.5,505.5 794.5,506.5 795.5,507.5 804.5,507.5 805.5,506.5 806.5,505.5 806.5,504.5 808.5,504.5 808.5,506.5 809.5,507.5 811.5,507.5 812.5,506.5 814.5,506.5 815.5,505.5 816.5,503.5 816.5,502.5 817.5,503.5 818.5,504.5 818.5,505.5 819.5,506.5 820.5,507.5 823.5,507.5 824.5,505.5 825.5,504.5 825.5,503.5 826.5,503.5 827.5,504.5 828.5,506.5 830.5,506.5 830.5,505.5 831.5,504.5 833.5,504.5 833.5,506.5 834.5,507.5 842.5,507.5 842.5,502.5 843.5,497.5 844.5,492.5 845.5,488.5 845.5,486.5 846.5,486.5 847.5,489.5 847.5,493.5 848.5,498.5 849.5,503.5 850.5,507.5 850.5,508.5 852.5,508.5 853.5,509.5 855.5,509.5 856.5,510.5 857.5,510.5 858.5,511.5 867.5,511.5 867.5,512.5 894.5,512.5 894.5,513.5 918.5,513.5 919.5,512.5 1018.5,512.5"/>
<polyline stroke="#377EB8" stroke-opacity="0.76" points="112.5,483.5 113.5,485.5 113.5,487.5 114.5,488.5 115.5,490.5 115.5,491.5 116.5,493.5 117.5,494.5 118.5,496.5 118.5,497.5 119.5,498.5 120.5,499.5 120.5,501.5 121.5,502.5 122.5,503.5 123.5,503.5 123.5,504.5 124.5,505.5 125.5,506.5 126.5,507.5 127.5,508.5 128.5,508.5 128.5,509.5 129.5,509.5 130.5,510.5 131.5,510.5 132.5,511.5 147.5,511.5 147.5,510.5 148.5,509.5 149.5,508.5 150.5,506.5 150.5,503.5 151.5,500.5 152.5,497.5 152.5,494.5 153.5,490.5 154.5,488.5 155.5,490.5 156.5,493.5 157.5,496.5 157.5,499.5 158.5,501.5 159.5,503.5 159.5,505.5 160.5,507.5 161.5,508.5 162.5,510.5 163.5,511.5 179.5,511.5 180.5,510.5 181.5,509.5 181.5,508.5 182.5,505.5 183.5,503.5 184.5,499.5 184.5,494.5 185.5,488.5 186.5,481.5 186.5,473.5 187.5,464.5 188.5,453.5 189.5,441.5 189.5,429.5 190.5,416.5 191.5,403.5 191.5,390.5 192.5,378.5 193.5,368.5 194.5,360.5 194.5,354.5 195.5,350.5 196.5,350.5 197.5,352.5 198.5,356.5 199.5,360.5 199.5,365.5 200.5,371.5 201.5,378.5 201.5,385.5 202.5,393.5 203.5,401.5 203.5,409.5 204.5,417.5 205.5,426.5 206.5,434.5 206.5,442.5 207.5,450.5 208.5,457.5 208.5,463.5 209.5,470.5 210.5,471.5 211.5,470.5 211.5,471.5 212.5,473.5 213.5,476.5 213.5,478.5 214.5,481.5 215.5,484.5 216.5,487.5 216.5,490.5 217.5,492.5 218.5,495.5 218.5,497.5 219.5,499.5 220.5,501.5 221.5,503.5 221.5,502.5 222.5,499.5 223.5,495.5 223.5,491.5 224.5,486.5 225.5,482.5 225.5,480.5 226.5,482.5 227.5,485.5 228.5,489.5 228.5,493.5 229.5,496.5 230.5,500.5 230.5,503.5 231.5,505.5 232.5,504.5 233.5,499.5 233.5,492.5 234.5,483.5 235.5,472.5 235.5,459.5 236.5,443.5 237.5,426.5 238.5,407.5 238.5,389.5 239.5,372.5 240.5,358.5 240.5,348.5 241.5,342.5 242.5,342.5 243.5,344.5 243.5,349.5 244.5,355.5 245.5,364.5 245.5,374.5 246.5,385.5 247.5,397.5 248.5,409.5 248.5,422.5 249.5,433.5 250.5,445.5 250.5,455.5 251.5,465.5 252.5,474.5 252.5,481.5 253.5,488.5 254.5,493.5 255.5,498.5 255.5,501.5 256.5,504.5 262.5,504.5 262.5,503.5 263.5,502.5 264.5,502.5 265.5,501.5 265.5,502.5 267.5,502.5 267.5,503.5 268.5,503.5 269.5,504.5 272.5,504.5 272.5,503.5 273.5,502.5 274.5,502.5 274.5,503.5 275.5,504.5 282.5,504.5 283.5,503.5 284.5,503.5 285.5,504.5 289.5,504.5 289.5,503.5 290.5,503.5 291.5,502.5 292.5,503.5 293.5,503.5 294.5,502.5 295.5,502.5 296.5,503.5 296.5,504.5 297.5,504.5 298.5,503.5 299.5,502.5 300.5,503.5 301.5,502.5 301.5,499.5 302.5,496.5 303.5,494.5 304.5,491.5 305.5,492.5 306.5,494.5 306.5,496.5 307.5,499.5 308.5,501.5 309.5,503.5 309.5,504.5 330.5,504.5 331.5,505.5 333.5,505.5 333.5,504.5 334.5,503.5 335.5,502.5 336.5,502.5 336.5,503.5 337.5,505.5 362.5,505.5 363.5,503.5 363.5,500.5 364.5,496.5 365.5,492.5 365.5,488.5 366.5,484.5 367.5,483.5 367.5,485.5 368.5,488.5 369.5,491.5 370.5,494.5 370.5,498.5 371.5,500.5 372.5,503.5 372.5,505.5 402.5,505.5 402.5,503.5 403.5,498.5 404.5,490.5 404.5,479.5 405.5,466.5 406.5,450.5 407.5,431.5 407.5,410.5 408.5,389.5 409.5,368.5 409.5,349.5 410.5,334.5 411.5,325.5 412.5,322.5 412.5,323.5 413.5,326.5 414.5,330.5 414.5,337.5 415.5,345.5 416.5,354.5 416.5,365.5 417.5,376.5 418.5,387.5 419.5,399.5 419.5,411.5 420.5,422.5 421.5,433.5 421.5,444.5 422.5,453.5 423.5,462.5 424.5,467.5 424.5,463.5 425.5,459.5 426.5,456.5 426.5,453.5 427.5,452.5 428.5,453.5 429.5,455.5 429.5,457.5 430.5,460.5 431.5,463.5 431.5,466.5 432.5,468.5 433.5,471.5 434.5,474.5 434.5,477.5 435.5,480.5 436.5,481.5 436.5,476.5 437.5,472.5 438.5,468.5 438.5,469.5 439.5,471.5 440.5,475.5 441.5,478.5 441.5,482.5 442.5,486.5 443.5,489.5 443.5,493.5 444.5,488.5 445.5,482.5 446.5,476.5 446.5,468.5 447.5,461.5 448.5,454.5 448.5,449.5 449.5,449.5 450.5,452.5 451.5,457.5 451.5,462.5 452.5,467.5 453.5,473.5 453.5,478.5 454.5,483.5 455.5,487.5 456.5,491.5 456.5,494.5 457.5,482.5 458.5,466.5 458.5,446.5 459.5,423.5 460.5,398.5 461.5,375.5 461.5,356.5 462.5,344.5 463.5,341.5 463.5,346.5 464.5,357.5 465.5,373.5 465.5,393.5 466.5,414.5 467.5,435.5 468.5,454.5 468.5,470.5 469.5,483.5 470.5,493.5 470.5,498.5 471.5,495.5 472.5,488.5 473.5,479.5 473.5,467.5 474.5,452.5 475.5,434.5 475.5,414.5 476.5,390.5 477.5,364.5 478.5,335.5 478.5,306.5 479.5,276.5 480.5,248.5 480.5,222.5 481.5,200.5 482.5,183.5 483.5,173.5 483.5,169.5 484.5,170.5 485.5,173.5 485.5,180.5 486.5,189.5 487.5,200.5 487.5,213.5 488.5,227.5 489.5,244.5 490.5,261.5 490.5,279.5 491.5,297.5 492.5,316.5 492.5,334.5 493.5,352.5 494.5,369.5 495.5,384.5 495.5,372.5 496.5,362.5 497.5,354.5 497.5,348.5 498.5,345.5 499.5,345.5 500.5,347.5 500.5,351.5 501.5,357.5 502.5,365.5 502.5,375.5 503.5,385.5 504.5,396.5 505.5,408.5 505.5,420.5 506.5,431.5 507.5,442.5 507.5,452.5 508.5,453.5 509.5,453.5 509.5,454.5 510.5,452.5 511.5,437.5 512.5,420.5 512.5,402.5 513.5,382.5 514.5,361.5 514.5,339.5 515.5,318.5 516.5,298.5 517.5,281.5 517.5,266.5 518.5,254.5 519.5,247.5 519.5,245.5 520.5,245.5 521.5,248.5 522.5,252.5 522.5,258.5 523.5,265.5 524.5,274.5 524.5,283.5 525.5,294.5 526.5,306.5 527.5,318.5 527.5,331.5 528.5,344.5 529.5,357.5 529.5,370.5 530.5,383.5 531.5,396.5 532.5,404.5 532.5,394.5 533.5,384.5 534.5,375.5 534.5,367.5 535.5,360.5 536.5,355.5 536.5,351.5 537.5,350.5 538.5,350.5 539.5,351.5 539.5,354.5 540.5,359.5 541.5,364.5 541.5,371.5 542.5,378.5 543.5,387.5 544.5,395.5 544.5,405.5 545.5,414.5 546.5,423.5 546.5,432.5 547.5,441.5 548.5,450.5 549.5,458.5 549.5,465.5 550.5,472.5 551.5,478.5 551.5,484.5 552.5,489.5 553.5,493.5 554.5,495.5 554.5,496.5 555.5,496.5 556.5,497.5 557.5,497.5 558.5,498.5 559.5,498.5 560.5,499.5 567.5,499.5 568.5,498.5 568.5,492.5 569.5,484.5 570.5,474.5 571.5,461.5 571.5,446.5 572.5,428.5 573.5,407.5 573.5,384.5 574.5,359.5 575.5,333.5 576.5,306.5 576.5,281.5 577.5,257.5 578.5,237.5 578.5,220.5 579.5,210.5 580.5,205.5 581.5,208.5 582.5,213.5 583.5,221.5 583.5,230.5 584.5,242.5 585.5,255.5 585.5,269.5 586.5,284.5 587.5,300.5 588.5,317.5 588.5,333.5 589.5,350.5 590.5,366.5 590.5,382.5 591.5,395.5 592.5,395.5 593.5,396.5 593.5,399.5 594.5,403.5 595.5,408.5 595.5,414.5 596.5,421.5 597.5,428.5 598.5,436.5 598.5,444.5 599.5,446.5 600.5,441.5 600.5,437.5 601.5,434.5 602.5,434.5 603.5,437.5 603.5,441.5 604.5,444.5 605.5,449.5 605.5,453.5 606.5,457.5 607.5,462.5 607.5,466.5 608.5,469.5 609.5,465.5 610.5,461.5 610.5,459.5 611.5,462.5 612.5,465.5 612.5,468.5 613.5,472.5 614.5,476.5 615.5,480.5 615.5,484.5 616.5,488.5 617.5,487.5 617.5,485.5 618.5,486.5 619.5,488.5 620.5,490.5 620.5,492.5 621.5,495.5 622.5,497.5 622.5,499.5 625.5,499.5 625.5,498.5 626.5,494.5 627.5,489.5 627.5,484.5 628.5,478.5 629.5,473.5 629.5,468.5 630.5,464.5 631.5,464.5 632.5,467.5 632.5,469.5 633.5,463.5 634.5,458.5 634.5,452.5 635.5,446.5 636.5,440.5 637.5,434.5 637.5,430.5 638.5,426.5 639.5,425.5 639.5,428.5 640.5,432.5 641.5,437.5 642.5,443.5 642.5,448.5 643.5,454.5 644.5,460.5 644.5,465.5 645.5,470.5 646.5,475.5 647.5,479.5 647.5,478.5 648.5,477.5 649.5,476.5 649.5,475.5 650.5,474.5 651.5,472.5 651.5,463.5 652.5,450.5 653.5,435.5 654.5,419.5 654.5,403.5 655.5,389.5 656.5,378.5 656.5,369.5 657.5,365.5 658.5,365.5 659.5,368.5 659.5,373.5 660.5,381.5 661.5,391.5 661.5,402.5 662.5,414.5 663.5,426.5 664.5,438.5 664.5,450.5 665.5,461.5 666.5,463.5 667.5,464.5 668.5,465.5 669.5,466.5 669.5,467.5 670.5,468.5 671.5,469.5 671.5,471.5 672.5,472.5 673.5,473.5 674.5,474.5 674.5,475.5 675.5,476.5 676.5,477.5 676.5,478.5 677.5,479.5 678.5,476.5 678.5,467.5 679.5,456.5 680.5,444.5 681.5,432.5 681.5,419.5 682.5,407.5 683.5,396.5 683.5,387.5 684.5,380.5 685.5,376.5 686.5,375.5 686.5,376.5 687.5,378.5 688.5,383.5 688.5,389.5 689.5,396.5 690.5,404.5 691.5,413.5 691.5,422.5 692.5,432.5 693.5,441.5 693.5,451.5 694.5,459.5 695.5,467.5 696.5,475.5 696.5,481.5 697.5,487.5 698.5,492.5 698.5,497.5 699.5,496.5 700.5,494.5 700.5,492.5 701.5,490.5 702.5,488.5 703.5,488.5 704.5,489.5 705.5,490.5 705.5,491.5 706.5,493.5 707.5,494.5 708.5,496.5 708.5,497.5 709.5,498.5 710.5,499.5 711.5,499.5 712.5,500.5 715.5,500.5 715.5,501.5 718.5,501.5 719.5,502.5 722.5,502.5 722.5,503.5 725.5,503.5 726.5,504.5 730.5,504.5 730.5,505.5 733.5,505.5 734.5,506.5 737.5,506.5 737.5,507.5 740.5,507.5 741.5,508.5 756.5,508.5 757.5,507.5 757.5,505.5 758.5,504.5 759.5,504.5 759.5,505.5 760.5,506.5 761.5,507.5 762.5,508.5 768.5,508.5 769.5,506.5 769.5,504.5 770.5,502.5 771.5,499.5 771.5,496.5 772.5,492.5 773.5,487.5 774.5,483.5 774.5,478.5 775.5,473.5 776.5,469.5 776.5,467.5 777.5,468.5 778.5,472.5 779.5,476.5 779.5,480.5 780.5,484.5 781.5,488.5 781.5,492.5 782.5,496.5 783.5,499.5 784.5,501.5 784.5,504.5 785.5,506.5 786.5,507.5 786.5,508.5 787.5,507.5 788.5,506.5 789.5,507.5 790.5,508.5 791.5,508.5 791.5,507.5 792.5,506.5 793.5,506.5 793.5,507.5 794.5,507.5 795.5,508.5 796.5,507.5 796.5,505.5 797.5,504.5 798.5,502.5 798.5,501.5 799.5,500.5 800.5,500.5 801.5,501.5 801.5,502.5 802.5,504.5 803.5,504.5 803.5,505.5 804.5,506.5 805.5,507.5 806.5,508.5 814.5,508.5 815.5,507.5 816.5,506.5 817.5,507.5 818.5,507.5 818.5,508.5 820.5,508.5 820.5,507.5 821.5,506.5 822.5,505.5 824.5,505.5 825.5,507.5 825.5,508.5 830.5,508.5 831.5,507.5 832.5,506.5 833.5,506.5 833.5,505.5 834.5,504.5 835.5,504.5 836.5,505.5 837.5,506.5 838.5,507.5 838.5,508.5 843.5,508.5 844.5,504.5 845.5,500.5 845.5,496.5 846.5,493.5 847.5,493.5 847.5,494.5 848.5,497.5 849.5,500.5 850.5,504.5 850.5,507.5 851.5,508.5 852.5,509.5 856.5,509.5 857.5,510.5 858.5,510.5 859.5,511.5 866.5,511.5 867.5,512.5 895.5,512.5 896.5,513.5 992.5,513.5 992.5,512.5 994.5,512.5 994.5,511.5 1018.5,511.5"/>
<polyline stroke="#377EB8" stroke-opacity="0.76" points="112.5,511.5 148.5,511.5 149.5,510.5 150.5,509.5 150.5,508.5 151.5,506.5 152.5,503.5 152.5,501.5 153.5,498.5 154.5,495.5 154.5,492.5 155.5,492.5 156.5,494.5 157.5,496.5 157.5,499.5 158.5,501.5 159.5,504.5 159.5,506.5 160.5,507.5 161.5,509.5 162.5,510.5 162.5,511.5 174.5,511.5 175.5,509.5 176.5,507.5 177.5,504.5 177.5,500.5 178.5,494.5 179.5,487.5 179.5,477.5 180.5,465.5 181.5,451.5 181.5,435.5 182.5,418.5 183.5,402.5 184.5,391.5 184.5,394.5 185.5,402.5 186.5,411.5 186.5,421.5 187.5,431.5 188.5,432.5 189.5,419.5 189.5,405.5 190.5,393.5 191.5,382.5 191.5,372.5 192.5,365.5 193.5,361.5 194.5,360.5 195.5,363.5 196.5,366.5 196.5,371.5 197.5,377.5 198.5,383.5 199.5,391.5 199.5,399.5 200.5,408.5 201.5,417.5 201.5,426.5 202.5,435.5 203.5,443.5 203.5,451.5 204.5,459.5 205.5,466.5 206.5,473.5 206.5,479.5 207.5,484.5 208.5,489.5 208.5,493.5 209.5,497.5 210.5,500.5 211.5,503.5 211.5,505.5 212.5,507.5 213.5,508.5 213.5,509.5 217.5,509.5 218.5,508.5 218.5,506.5 219.5,504.5 220.5,501.5 221.5,498.5 221.5,494.5 222.5,491.5 223.5,488.5 223.5,486.5 224.5,487.5 225.5,489.5 225.5,492.5 226.5,495.5 227.5,498.5 228.5,500.5 228.5,503.5 229.5,505.5 230.5,506.5 230.5,508.5 231.5,508.5 232.5,504.5 233.5,499.5 233.5,492.5 234.5,482.5 235.5,470.5 235.5,455.5 236.5,437.5 237.5,419.5 238.5,400.5 238.5,383.5 239.5,369.5 240.5,359.5 240.5,356.5 241.5,357.5 242.5,361.5 243.5,369.5 243.5,379.5 244.5,392.5 245.5,405.5 245.5,419.5 246.5,433.5 247.5,447.5 248.5,459.5 248.5,470.5 249.5,480.5 250.5,488.5 250.5,494.5 251.5,499.5 252.5,503.5 252.5,506.5 253.5,507.5 255.5,507.5 256.5,506.5 257.5,506.5 257.5,505.5 258.5,504.5 259.5,504.5 260.5,505.5 260.5,506.5 261.5,507.5 270.5,507.5 271.5,506.5 272.5,506.5 272.5,505.5 273.5,505.5 274.5,506.5 275.5,507.5 292.5,507.5 293.5,506.5 295.5,506.5 296.5,507.5 298.5,507.5 299.5,506.5 299.5,504.5 300.5,501.5 301.5,499.5 301.5,496.5 302.5,494.5 303.5,493.5 304.5,494.5 304.5,495.5 305.5,497.5 306.5,499.5 306.5,501.5 307.5,503.5 308.5,505.5 309.5,506.5 309.5,507.5 322.5,507.5 323.5,506.5 323.5,505.5 325.5,505.5 326.5,506.5 326.5,507.5 343.5,507.5 344.5,506.5 346.5,506.5 347.5,507.5 357.5,507.5 358.5,506.5 359.5,506.5 360.5,507.5 366.5,507.5 367.5,505.5 367.5,503.5 368.5,500.5 369.5,498.5 370.5,494.5 370.5,491.5 371.5,488.5 372.5,485.5 372.5,483.5 373.5,484.5 374.5,485.5 375.5,487.5 375.5,488.5 376.5,490.5 377.5,492.5 377.5,494.5 378.5,495.5 379.5,497.5 380.5,499.5 380.5,500.5 381.5,502.5 382.5,503.5 382.5,504.5 383.5,505.5 384.5,506.5 385.5,507.5 390.5,507.5 390.5,506.5 392.5,506.5 393.5,507.5 407.5,507.5 408.5,506.5 409.5,505.5 409.5,504.5 410.5,504.5 411.5,503.5 412.5,502.5 412.5,501.5 413.5,501.5 414.5,500.5 414.5,497.5 415.5,491.5 416.5,483.5 416.5,473.5 417.5,462.5 418.5,450.5 419.5,438.5 419.5,427.5 420.5,417.5 421.5,409.5 421.5,405.5 422.5,404.5 423.5,404.5 424.5,407.5 424.5,410.5 425.5,414.5 426.5,420.5 426.5,425.5 427.5,432.5 428.5,439.5 429.5,446.5 429.5,447.5 430.5,444.5 431.5,442.5 431.5,443.5 432.5,445.5 433.5,448.5 434.5,451.5 434.5,454.5 435.5,457.5 436.5,460.5 436.5,464.5 437.5,465.5 438.5,462.5 438.5,463.5 439.5,466.5 440.5,470.5 441.5,474.5 441.5,478.5 442.5,483.5 443.5,487.5 443.5,489.5 444.5,483.5 445.5,476.5 446.5,468.5 446.5,460.5 447.5,451.5 448.5,443.5 448.5,437.5 449.5,438.5 450.5,442.5 451.5,448.5 451.5,454.5 452.5,460.5 453.5,467.5 453.5,473.5 454.5,478.5 455.5,483.5 456.5,488.5 456.5,484.5 457.5,472.5 458.5,458.5 458.5,444.5 459.5,430.5 460.5,418.5 461.5,410.5 461.5,406.5 462.5,407.5 463.5,412.5 463.5,421.5 464.5,433.5 465.5,446.5 465.5,459.5 466.5,471.5 467.5,482.5 468.5,484.5 468.5,473.5 469.5,459.5 470.5,442.5 470.5,422.5 471.5,399.5 472.5,373.5 473.5,346.5 473.5,318.5 474.5,290.5 475.5,265.5 475.5,244.5 476.5,228.5 477.5,218.5 478.5,215.5 479.5,218.5 480.5,222.5 480.5,228.5 481.5,234.5 482.5,243.5 483.5,252.5 483.5,263.5 484.5,274.5 485.5,286.5 485.5,299.5 486.5,311.5 487.5,325.5 487.5,338.5 488.5,351.5 489.5,364.5 490.5,377.5 490.5,389.5 491.5,391.5 492.5,373.5 492.5,357.5 493.5,342.5 494.5,331.5 495.5,323.5 495.5,320.5 496.5,320.5 497.5,325.5 497.5,332.5 498.5,343.5 499.5,356.5 500.5,370.5 500.5,386.5 501.5,402.5 502.5,417.5 502.5,429.5 503.5,430.5 504.5,432.5 505.5,433.5 505.5,434.5 506.5,435.5 507.5,437.5 507.5,438.5 508.5,439.5 509.5,441.5 509.5,442.5 510.5,443.5 511.5,444.5 512.5,446.5 512.5,447.5 513.5,448.5 514.5,450.5 514.5,451.5 515.5,437.5 516.5,422.5 517.5,405.5 517.5,388.5 518.5,370.5 519.5,352.5 519.5,334.5 520.5,318.5 521.5,304.5 522.5,293.5 522.5,285.5 523.5,280.5 524.5,280.5 524.5,281.5 525.5,284.5 526.5,288.5 527.5,294.5 527.5,301.5 528.5,310.5 529.5,319.5 529.5,329.5 530.5,340.5 531.5,352.5 532.5,364.5 532.5,376.5 533.5,387.5 534.5,399.5 534.5,410.5 535.5,421.5 536.5,431.5 536.5,441.5 537.5,450.5 538.5,458.5 539.5,465.5 539.5,471.5 540.5,464.5 541.5,457.5 541.5,448.5 542.5,440.5 543.5,431.5 544.5,423.5 544.5,415.5 545.5,407.5 546.5,399.5 546.5,393.5 547.5,388.5 548.5,384.5 549.5,381.5 549.5,380.5 550.5,380.5 551.5,381.5 551.5,382.5 552.5,385.5 553.5,388.5 554.5,392.5 554.5,396.5 555.5,401.5 556.5,407.5 556.5,412.5 557.5,418.5 558.5,424.5 558.5,431.5 559.5,437.5 560.5,443.5 561.5,449.5 561.5,455.5 562.5,461.5 563.5,466.5 563.5,472.5 564.5,476.5 565.5,481.5 566.5,473.5 566.5,461.5 567.5,448.5 568.5,432.5 568.5,414.5 569.5,395.5 570.5,376.5 571.5,357.5 571.5,339.5 572.5,323.5 573.5,310.5 573.5,301.5 574.5,296.5 575.5,296.5 576.5,297.5 576.5,301.5 577.5,306.5 578.5,313.5 578.5,321.5 579.5,331.5 580.5,341.5 580.5,352.5 581.5,364.5 582.5,376.5 583.5,388.5 583.5,400.5 584.5,412.5 585.5,423.5 585.5,434.5 586.5,430.5 587.5,422.5 588.5,417.5 588.5,415.5 589.5,415.5 590.5,416.5 590.5,419.5 591.5,422.5 592.5,427.5 593.5,432.5 593.5,438.5 594.5,444.5 595.5,451.5 595.5,452.5 596.5,448.5 597.5,445.5 598.5,446.5 598.5,448.5 599.5,451.5 600.5,455.5 600.5,458.5 601.5,462.5 602.5,466.5 603.5,469.5 603.5,464.5 604.5,458.5 605.5,454.5 605.5,452.5 606.5,454.5 607.5,458.5 607.5,462.5 608.5,466.5 609.5,471.5 610.5,475.5 610.5,480.5 611.5,484.5 612.5,488.5 612.5,491.5 613.5,489.5 614.5,482.5 615.5,472.5 615.5,460.5 616.5,446.5 617.5,431.5 617.5,415.5 618.5,401.5 619.5,390.5 620.5,393.5 620.5,404.5 621.5,416.5 622.5,429.5 622.5,441.5 623.5,453.5 624.5,464.5 625.5,473.5 625.5,477.5 626.5,477.5 627.5,479.5 627.5,481.5 628.5,484.5 629.5,487.5 629.5,490.5 630.5,493.5 631.5,496.5 632.5,499.5 632.5,497.5 633.5,495.5 634.5,492.5 634.5,488.5 635.5,484.5 636.5,480.5 637.5,476.5 637.5,471.5 638.5,466.5 639.5,461.5 639.5,456.5 640.5,451.5 641.5,447.5 642.5,443.5 642.5,440.5 643.5,441.5 644.5,444.5 644.5,449.5 645.5,454.5 646.5,460.5 647.5,465.5 647.5,470.5 648.5,475.5 649.5,480.5 649.5,485.5 650.5,486.5 651.5,485.5 651.5,483.5 652.5,482.5 653.5,481.5 654.5,480.5 654.5,479.5 655.5,478.5 656.5,477.5 656.5,476.5 657.5,475.5 658.5,474.5 659.5,473.5 659.5,464.5 660.5,452.5 661.5,438.5 661.5,425.5 662.5,413.5 663.5,404.5 664.5,397.5 664.5,394.5 665.5,394.5 666.5,397.5 666.5,402.5 667.5,408.5 668.5,417.5 669.5,426.5 669.5,436.5 670.5,446.5 671.5,456.5 671.5,465.5 672.5,474.5 673.5,478.5 674.5,479.5 675.5,480.5 676.5,481.5 676.5,482.5 677.5,483.5 678.5,484.5 678.5,485.5 679.5,486.5 680.5,487.5 681.5,488.5 681.5,485.5 682.5,478.5 683.5,469.5 683.5,459.5 684.5,449.5 685.5,439.5 686.5,430.5 686.5,422.5 687.5,415.5 688.5,411.5 688.5,410.5 689.5,410.5 690.5,412.5 691.5,416.5 691.5,421.5 692.5,427.5 693.5,434.5 693.5,441.5 694.5,449.5 695.5,457.5 696.5,464.5 696.5,472.5 697.5,473.5 698.5,474.5 698.5,475.5 699.5,476.5 700.5,477.5 700.5,478.5 701.5,479.5 702.5,481.5 703.5,482.5 703.5,483.5 704.5,484.5 705.5,485.5 705.5,487.5 706.5,488.5 707.5,489.5 708.5,490.5 708.5,491.5 709.5,492.5 710.5,493.5 710.5,494.5 711.5,495.5 712.5,496.5 713.5,497.5 713.5,498.5 714.5,499.5 715.5,500.5 721.5,500.5 722.5,501.5 724.5,501.5 725.5,502.5 727.5,502.5 727.5,503.5 730.5,503.5 731.5,502.5 732.5,500.5 732.5,498.5 733.5,496.5 734.5,494.5 735.5,491.5 735.5,490.5 736.5,488.5 737.5,488.5 738.5,490.5 739.5,491.5 740.5,493.5 740.5,495.5 741.5,496.5 742.5,498.5 742.5,500.5 743.5,501.5 744.5,503.5 745.5,504.5 745.5,505.5 746.5,506.5 747.5,507.5 748.5,506.5 749.5,505.5 749.5,504.5 750.5,505.5 751.5,505.5 752.5,506.5 752.5,507.5 753.5,508.5 754.5,508.5 754.5,509.5 755.5,509.5 756.5,508.5 757.5,507.5 758.5,506.5 759.5,507.5 759.5,509.5 764.5,509.5 764.5,508.5 765.5,507.5 766.5,507.5 767.5,508.5 767.5,509.5 774.5,509.5 775.5,508.5 776.5,507.5 776.5,506.5 778.5,506.5 779.5,507.5 779.5,508.5 780.5,509.5 784.5,509.5 784.5,508.5 785.5,507.5 786.5,506.5 787.5,505.5 788.5,505.5 789.5,506.5 789.5,507.5 790.5,507.5 791.5,508.5 791.5,509.5 795.5,509.5 796.5,508.5 797.5,507.5 798.5,506.5 799.5,506.5 800.5,507.5 801.5,508.5 801.5,509.5 802.5,508.5 803.5,506.5 806.5,506.5 806.5,507.5 807.5,507.5 808.5,508.5 808.5,509.5 816.5,509.5 816.5,507.5 817.5,507.5 818.5,508.5 818.5,509.5 835.5,509.5 835.5,508.5 836.5,507.5 838.5,507.5 838.5,506.5 839.5,507.5 840.5,507.5 840.5,508.5 841.5,508.5 842.5,507.5 842.5,504.5 843.5,501.5 844.5,499.5 845.5,499.5 845.5,500.5 846.5,502.5 847.5,505.5 847.5,508.5 848.5,509.5 857.5,509.5 857.5,510.5 860.5,510.5 860.5,511.5 865.5,511.5 866.5,512.5 896.5,512.5 897.5,513.5 918.5,513.5 919.5,512.5 1018.5,512.5"/>
<polyline stroke="#377EB8" stroke-opacity="0.76" points="112.5,481.5 113.5,480.5 114.5,479.5 115.5,478.5 115.5,477.5 116.5,477.5 117.5,476.5 119.5,476.5 120.5,479.5 120.5,481.5 121.5,484.5 122.5,487.5 123.5,491.5 123.5,494.5 124.5,496.5 125.5,499.5 125.5,500.5 150.5,500.5 150.5,497.5 151.5,493.5 152.5,489.5 152.5,486.5 153.5,482.5 154.5,482.5 154.5,485.5 155.5,489.5 156.5,494.5 157.5,498.5 157.5,500.5 168.5,500.5 169.5,501.5 170.5,502.5 171.5,502.5 172.5,503.5 172.5,504.5 173.5,504.5 174.5,505.5 174.5,506.5 175.5,506.5 176.5,507.5 181.5,507.5 182.5,505.5 183.5,502.5 184.5,499.5 184.5,496.5 185.5,491.5 186.5,486.5 186.5,479.5 187.5,472.5 188.5,465.5 189.5,456.5 189.5,447.5 190.5,437.5 191.5,427.5 191.5,417.5 192.5,408.5 193.5,398.5 194.5,390.5 194.5,383.5 195.5,377.5 196.5,373.5 196.5,370.5 198.5,370.5 199.5,372.5 199.5,374.5 200.5,377.5 201.5,381.5 201.5,385.5 202.5,391.5 203.5,396.5 203.5,402.5 204.5,409.5 205.5,416.5 206.5,422.5 206.5,429.5 207.5,436.5 208.5,443.5 208.5,449.5 209.5,456.5 210.5,462.5 211.5,467.5 211.5,473.5 212.5,478.5 213.5,482.5 213.5,484.5 214.5,484.5 215.5,486.5 216.5,489.5 216.5,491.5 217.5,493.5 218.5,496.5 218.5,498.5 219.5,500.5 220.5,502.5 221.5,504.5 222.5,503.5 223.5,500.5 223.5,497.5 224.5,494.5 225.5,492.5 226.5,494.5 227.5,496.5 228.5,499.5 228.5,501.5 229.5,503.5 233.5,503.5 234.5,498.5 235.5,492.5 235.5,483.5 236.5,473.5 237.5,460.5 238.5,446.5 238.5,431.5 239.5,415.5 240.5,401.5 240.5,388.5 241.5,378.5 242.5,372.5 243.5,370.5 244.5,373.5 245.5,377.5 245.5,382.5 246.5,388.5 247.5,396.5 248.5,404.5 248.5,412.5 249.5,421.5 250.5,430.5 250.5,439.5 251.5,448.5 252.5,457.5 252.5,464.5 253.5,472.5 254.5,478.5 255.5,484.5 255.5,489.5 256.5,493.5 257.5,497.5 257.5,500.5 258.5,502.5 274.5,502.5 275.5,501.5 276.5,500.5 278.5,500.5 279.5,501.5 279.5,502.5 297.5,502.5 298.5,500.5 299.5,500.5 300.5,501.5 301.5,499.5 301.5,496.5 302.5,493.5 303.5,490.5 304.5,489.5 304.5,490.5 305.5,492.5 306.5,494.5 306.5,497.5 307.5,499.5 308.5,501.5 310.5,501.5 311.5,502.5 330.5,502.5 331.5,503.5 335.5,503.5 336.5,502.5 337.5,501.5 338.5,502.5 339.5,501.5 341.5,501.5 341.5,502.5 342.5,503.5 345.5,503.5 346.5,502.5 347.5,502.5 348.5,503.5 358.5,503.5 358.5,502.5 359.5,501.5 360.5,501.5 360.5,502.5 361.5,502.5 362.5,503.5 372.5,503.5 373.5,502.5 374.5,501.5 375.5,502.5 376.5,503.5 385.5,503.5 385.5,502.5 386.5,499.5 387.5,494.5 387.5,490.5 388.5,486.5 389.5,484.5 390.5,486.5 390.5,490.5 391.5,493.5 392.5,497.5 392.5,500.5 393.5,503.5 407.5,503.5 408.5,501.5 409.5,494.5 409.5,486.5 410.5,475.5 411.5,461.5 412.5,445.5 412.5,427.5 413.5,409.5 414.5,390.5 414.5,374.5 415.5,361.5 416.5,352.5 416.5,350.5 417.5,350.5 418.5,353.5 419.5,357.5 419.5,362.5 420.5,369.5 421.5,377.5 421.5,386.5 422.5,395.5 423.5,405.5 424.5,415.5 424.5,425.5 425.5,435.5 426.5,444.5 426.5,453.5 427.5,460.5 428.5,458.5 429.5,457.5 429.5,459.5 430.5,461.5 431.5,463.5 431.5,465.5 432.5,468.5 433.5,470.5 434.5,473.5 434.5,476.5 435.5,478.5 436.5,481.5 436.5,483.5 437.5,485.5 438.5,479.5 438.5,474.5 439.5,468.5 440.5,464.5 441.5,463.5 441.5,465.5 442.5,469.5 443.5,473.5 443.5,477.5 444.5,481.5 445.5,485.5 446.5,489.5 446.5,492.5 447.5,496.5 448.5,497.5 449.5,497.5 450.5,493.5 451.5,489.5 451.5,483.5 452.5,478.5 453.5,472.5 453.5,466.5 454.5,462.5 455.5,462.5 456.5,464.5 456.5,468.5 457.5,458.5 458.5,443.5 458.5,429.5 459.5,417.5 460.5,408.5 461.5,405.5 461.5,406.5 462.5,411.5 463.5,420.5 463.5,432.5 464.5,445.5 465.5,459.5 465.5,471.5 466.5,482.5 467.5,491.5 468.5,497.5 468.5,491.5 469.5,484.5 470.5,475.5 470.5,465.5 471.5,452.5 472.5,438.5 473.5,422.5 473.5,403.5 474.5,384.5 475.5,364.5 475.5,343.5 476.5,323.5 477.5,304.5 478.5,287.5 478.5,273.5 479.5,262.5 480.5,254.5 480.5,252.5 481.5,252.5 482.5,254.5 483.5,257.5 483.5,262.5 484.5,267.5 485.5,274.5 485.5,282.5 486.5,291.5 487.5,300.5 487.5,311.5 488.5,321.5 489.5,333.5 490.5,344.5 490.5,356.5 491.5,367.5 492.5,379.5 492.5,390.5 493.5,401.5 494.5,411.5 495.5,421.5 495.5,426.5 496.5,427.5 497.5,428.5 497.5,429.5 498.5,427.5 499.5,414.5 500.5,401.5 500.5,391.5 501.5,382.5 502.5,377.5 502.5,375.5 503.5,375.5 504.5,379.5 505.5,385.5 505.5,393.5 506.5,402.5 507.5,413.5 507.5,424.5 508.5,418.5 509.5,401.5 509.5,384.5 510.5,367.5 511.5,351.5 512.5,337.5 512.5,325.5 513.5,315.5 514.5,310.5 514.5,308.5 515.5,308.5 516.5,311.5 517.5,316.5 517.5,322.5 518.5,330.5 519.5,339.5 519.5,349.5 520.5,360.5 521.5,371.5 522.5,383.5 522.5,395.5 523.5,407.5 524.5,419.5 524.5,430.5 525.5,440.5 526.5,450.5 527.5,459.5 527.5,467.5 528.5,474.5 529.5,476.5 530.5,477.5 531.5,472.5 532.5,465.5 532.5,459.5 533.5,452.5 534.5,445.5 534.5,438.5 535.5,431.5 536.5,426.5 536.5,420.5 537.5,416.5 538.5,413.5 539.5,410.5 540.5,410.5 541.5,411.5 541.5,413.5 542.5,415.5 543.5,419.5 544.5,422.5 544.5,427.5 545.5,432.5 546.5,437.5 546.5,443.5 547.5,448.5 548.5,454.5 549.5,459.5 549.5,465.5 550.5,470.5 551.5,475.5 551.5,480.5 552.5,484.5 553.5,488.5 554.5,492.5 554.5,495.5 555.5,498.5 561.5,498.5 562.5,492.5 563.5,485.5 563.5,477.5 564.5,466.5 565.5,454.5 566.5,440.5 566.5,424.5 567.5,408.5 568.5,391.5 568.5,374.5 569.5,358.5 570.5,344.5 571.5,332.5 571.5,323.5 572.5,319.5 573.5,318.5 573.5,319.5 574.5,322.5 575.5,326.5 576.5,332.5 576.5,339.5 577.5,348.5 578.5,357.5 578.5,367.5 579.5,378.5 580.5,388.5 580.5,399.5 581.5,410.5 582.5,421.5 583.5,431.5 583.5,441.5 584.5,450.5 585.5,458.5 585.5,466.5 586.5,473.5 587.5,479.5 588.5,474.5 588.5,465.5 589.5,456.5 590.5,447.5 590.5,440.5 591.5,434.5 592.5,431.5 593.5,430.5 594.5,432.5 595.5,434.5 596.5,429.5 597.5,426.5 598.5,426.5 598.5,429.5 599.5,433.5 600.5,437.5 600.5,442.5 601.5,447.5 602.5,452.5 603.5,456.5 603.5,461.5 604.5,466.5 605.5,469.5 605.5,468.5 606.5,470.5 607.5,472.5 607.5,475.5 608.5,479.5 609.5,482.5 610.5,485.5 610.5,489.5 611.5,492.5 612.5,494.5 612.5,491.5 613.5,486.5 614.5,481.5 615.5,474.5 615.5,468.5 616.5,462.5 617.5,456.5 617.5,452.5 618.5,453.5 619.5,457.5 620.5,461.5 620.5,466.5 621.5,472.5 622.5,477.5 622.5,481.5 623.5,486.5 624.5,490.5 625.5,494.5 625.5,497.5 626.5,498.5 627.5,498.5 627.5,496.5 628.5,494.5 629.5,491.5 629.5,488.5 630.5,485.5 631.5,482.5 632.5,478.5 632.5,475.5 633.5,471.5 634.5,467.5 634.5,463.5 635.5,458.5 636.5,454.5 637.5,450.5 637.5,446.5 638.5,443.5 639.5,440.5 639.5,438.5 640.5,438.5 641.5,440.5 642.5,442.5 642.5,445.5 643.5,448.5 644.5,452.5 644.5,456.5 645.5,459.5 646.5,463.5 647.5,466.5 647.5,470.5 648.5,473.5 649.5,476.5 649.5,480.5 650.5,478.5 651.5,468.5 651.5,458.5 652.5,448.5 653.5,438.5 654.5,430.5 654.5,424.5 655.5,420.5 656.5,420.5 656.5,421.5 657.5,423.5 658.5,427.5 659.5,432.5 659.5,438.5 660.5,445.5 661.5,452.5 661.5,459.5 662.5,466.5 663.5,473.5 664.5,479.5 664.5,485.5 665.5,486.5 666.5,486.5 666.5,487.5 667.5,487.5 668.5,488.5 669.5,488.5 669.5,489.5 671.5,489.5 671.5,490.5 672.5,490.5 673.5,491.5 674.5,491.5 674.5,492.5 676.5,492.5 676.5,493.5 678.5,493.5 678.5,487.5 679.5,480.5 680.5,473.5 681.5,465.5 681.5,458.5 682.5,451.5 683.5,446.5 683.5,442.5 684.5,440.5 685.5,440.5 686.5,441.5 686.5,443.5 687.5,446.5 688.5,450.5 688.5,455.5 689.5,460.5 690.5,465.5 691.5,471.5 691.5,476.5 692.5,482.5 693.5,487.5 693.5,491.5 694.5,488.5 695.5,485.5 696.5,481.5 696.5,479.5 697.5,476.5 698.5,475.5 699.5,476.5 700.5,477.5 700.5,478.5 701.5,479.5 702.5,480.5 703.5,482.5 703.5,483.5 704.5,485.5 705.5,486.5 705.5,487.5 706.5,489.5 707.5,490.5 708.5,491.5 708.5,493.5 709.5,494.5 710.5,495.5 710.5,496.5 711.5,498.5 725.5,498.5 726.5,499.5 730.5,499.5 731.5,500.5 735.5,500.5 735.5,499.5 736.5,497.5 737.5,496.5 737.5,494.5 738.5,493.5 739.5,492.5 740.5,492.5 741.5,493.5 742.5,494.5 742.5,496.5 743.5,497.5 744.5,499.5 745.5,500.5 745.5,501.5 746.5,503.5 750.5,503.5 751.5,502.5 752.5,501.5 752.5,502.5 753.5,503.5 754.5,504.5 756.5,504.5 757.5,505.5 759.5,505.5 759.5,504.5 760.5,503.5 762.5,503.5 762.5,504.5 763.5,505.5 764.5,505.5 765.5,504.5 766.5,504.5 767.5,505.5 789.5,505.5 789.5,506.5 790.5,506.5 791.5,505.5 791.5,504.5 792.5,505.5 793.5,505.5 793.5,506.5 803.5,506.5 803.5,504.5 804.5,503.5 805.5,502.5 806.5,502.5 807.5,503.5 808.5,505.5 808.5,506.5 817.5,506.5 818.5,504.5 818.5,502.5 819.5,502.5 820.5,504.5 820.5,505.5 821.5,506.5 825.5,506.5 826.5,505.5 827.5,503.5 828.5,502.5 829.5,504.5 830.5,506.5 832.5,506.5 833.5,505.5 833.5,503.5 835.5,503.5 836.5,505.5 837.5,506.5 840.5,506.5 840.5,505.5 841.5,504.5 842.5,503.5 842.5,504.5 844.5,504.5 845.5,505.5 845.5,506.5 846.5,504.5 847.5,502.5 848.5,502.5 849.5,503.5 850.5,502.5 850.5,503.5 851.5,504.5 852.5,505.5 852.5,506.5 853.5,507.5 854.5,508.5 855.5,508.5 855.5,509.5 857.5,509.5 857.5,510.5 860.5,510.5 861.5,511.5 863.5,511.5 864.5,512.5 898.5,512.5 899.5,513.5 1018.5,513.5"/>
<polyline stroke="#377EB8" stroke-opacity="0.76" points="112.5,511.5 148.5,511.5 149.5,510.5 150.5,509.5 150.5,507.5 151.5,505.5 152.5,503.5 152.5,501.5 153.5,499.5 154.5,497.5 154.5,496.5 155.5,497.5 156.5,499.5 157.5,501.5 157.5,503.5 158.5,505.5 159.5,507.5 159.5,508.5 160.5,510.5 161.5,511.5 175.5,511.5 176.5,509.5 177.5,507.5 177.5,503.5 178.5,499.5 179.5,493.5 179.5,485.5 180.5,475.5 181.5,463.5 181.5,450.5 182.5,438.5 183.5,430.5 184.5,432.5 184.5,437.5 185.5,443.5 186.5,450.5 186.5,457.5 187.5,451.5 188.5,440.5 189.5,428.5 189.5,417.5 190.5,407.5 191.5,397.5 191.5,390.5 192.5,386.5 193.5,384.5 194.5,384.5 194.5,385.5 195.5,388.5 196.5,391.5 196.5,396.5 197.5,401.5 198.5,407.5 199.5,414.5 199.5,421.5 200.5,428.5 201.5,435.5 201.5,442.5 202.5,450.5 203.5,457.5 203.5,463.5 204.5,469.5 205.5,475.5 206.5,481.5 206.5,485.5 207.5,490.5 208.5,494.5 208.5,497.5 209.5,500.5 210.5,502.5 211.5,504.5 211.5,506.5 212.5,508.5 213.5,509.5 213.5,510.5 221.5,510.5 221.5,508.5 222.5,507.5 223.5,505.5 223.5,503.5 224.5,501.5 225.5,498.5 225.5,496.5 226.5,496.5 227.5,497.5 228.5,498.5 228.5,500.5 229.5,502.5 230.5,504.5 230.5,505.5 231.5,507.5 232.5,508.5 233.5,507.5 233.5,504.5 234.5,499.5 235.5,492.5 235.5,483.5 236.5,472.5 237.5,458.5 238.5,444.5 238.5,429.5 239.5,415.5 240.5,402.5 240.5,393.5 241.5,388.5 242.5,388.5 243.5,390.5 243.5,393.5 244.5,399.5 245.5,406.5 245.5,414.5 246.5,423.5 247.5,433.5 248.5,443.5 248.5,452.5 249.5,461.5 250.5,470.5 250.5,477.5 251.5,484.5 252.5,490.5 252.5,495.5 253.5,499.5 254.5,502.5 255.5,505.5 255.5,507.5 256.5,509.5 262.5,509.5 263.5,508.5 264.5,508.5 265.5,507.5 266.5,508.5 267.5,509.5 272.5,509.5 272.5,508.5 274.5,508.5 274.5,507.5 275.5,507.5 276.5,508.5 277.5,508.5 277.5,509.5 291.5,509.5 292.5,508.5 293.5,508.5 294.5,509.5 297.5,509.5 298.5,508.5 299.5,506.5 299.5,504.5 300.5,502.5 301.5,500.5 301.5,498.5 302.5,496.5 303.5,496.5 304.5,497.5 304.5,498.5 305.5,500.5 306.5,502.5 306.5,504.5 307.5,505.5 308.5,507.5 309.5,508.5 309.5,509.5 315.5,509.5 316.5,508.5 317.5,507.5 319.5,507.5 319.5,508.5 320.5,508.5 321.5,509.5 336.5,509.5 337.5,508.5 338.5,507.5 339.5,507.5 340.5,508.5 341.5,508.5 341.5,509.5 358.5,509.5 358.5,508.5 359.5,508.5 360.5,507.5 361.5,507.5 362.5,508.5 365.5,508.5 365.5,509.5 384.5,509.5 385.5,508.5 386.5,507.5 388.5,507.5 389.5,508.5 390.5,508.5 390.5,509.5 402.5,509.5 403.5,507.5 404.5,504.5 404.5,500.5 405.5,495.5 406.5,488.5 407.5,479.5 407.5,469.5 408.5,457.5 409.5,444.5 409.5,430.5 410.5,417.5 411.5,404.5 412.5,394.5 412.5,385.5 413.5,381.5 414.5,380.5 414.5,381.5 415.5,383.5 416.5,388.5 416.5,393.5 417.5,400.5 418.5,407.5 419.5,416.5 419.5,424.5 420.5,433.5 421.5,442.5 421.5,451.5 422.5,459.5 423.5,467.5 424.5,474.5 424.5,480.5 425.5,486.5 426.5,485.5 426.5,482.5 427.5,479.5 428.5,475.5 429.5,472.5 429.5,470.5 430.5,467.5 431.5,466.5 432.5,468.5 433.5,469.5 434.5,471.5 434.5,473.5 435.5,475.5 436.5,478.5 436.5,480.5 437.5,477.5 438.5,473.5 438.5,469.5 439.5,470.5 440.5,473.5 441.5,476.5 441.5,480.5 442.5,483.5 443.5,487.5 443.5,490.5 444.5,494.5 445.5,494.5 446.5,489.5 446.5,483.5 447.5,477.5 448.5,470.5 448.5,463.5 449.5,456.5 450.5,451.5 451.5,450.5 451.5,453.5 452.5,457.5 453.5,462.5 453.5,468.5 454.5,473.5 455.5,478.5 456.5,483.5 456.5,487.5 457.5,491.5 458.5,495.5 458.5,498.5 459.5,501.5 460.5,501.5 461.5,498.5 461.5,491.5 462.5,483.5 463.5,473.5 463.5,462.5 464.5,451.5 465.5,442.5 465.5,436.5 466.5,433.5 467.5,434.5 468.5,438.5 468.5,444.5 469.5,453.5 470.5,463.5 470.5,473.5 471.5,482.5 472.5,485.5 473.5,476.5 473.5,465.5 474.5,453.5 475.5,439.5 475.5,424.5 476.5,407.5 477.5,389.5 478.5,371.5 478.5,353.5 479.5,336.5 480.5,321.5 480.5,309.5 481.5,299.5 482.5,293.5 483.5,292.5 484.5,294.5 485.5,297.5 485.5,301.5 486.5,306.5 487.5,312.5 487.5,319.5 488.5,327.5 489.5,335.5 490.5,344.5 490.5,353.5 491.5,363.5 492.5,373.5 492.5,383.5 493.5,392.5 494.5,402.5 495.5,411.5 495.5,413.5 496.5,406.5 497.5,401.5 497.5,400.5 498.5,400.5 499.5,403.5 500.5,407.5 500.5,412.5 501.5,418.5 502.5,426.5 502.5,434.5 503.5,439.5 504.5,440.5 505.5,441.5 505.5,442.5 506.5,443.5 507.5,444.5 507.5,445.5 508.5,446.5 509.5,447.5 509.5,448.5 510.5,439.5 511.5,426.5 512.5,413.5 512.5,399.5 513.5,386.5 514.5,373.5 514.5,362.5 515.5,352.5 516.5,345.5 517.5,340.5 517.5,338.5 518.5,338.5 519.5,340.5 519.5,343.5 520.5,348.5 521.5,354.5 522.5,361.5 522.5,368.5 523.5,377.5 524.5,386.5 524.5,396.5 525.5,406.5 526.5,416.5 527.5,425.5 527.5,435.5 528.5,444.5 529.5,452.5 529.5,460.5 530.5,467.5 531.5,474.5 532.5,478.5 532.5,479.5 533.5,479.5 534.5,480.5 534.5,481.5 535.5,482.5 536.5,482.5 536.5,483.5 537.5,484.5 538.5,485.5 539.5,484.5 539.5,480.5 540.5,475.5 541.5,469.5 541.5,464.5 542.5,458.5 543.5,453.5 544.5,448.5 544.5,444.5 545.5,441.5 546.5,438.5 546.5,436.5 547.5,435.5 549.5,435.5 549.5,437.5 550.5,439.5 551.5,441.5 551.5,444.5 552.5,448.5 553.5,452.5 554.5,456.5 554.5,461.5 555.5,465.5 556.5,470.5 556.5,474.5 557.5,479.5 558.5,483.5 558.5,487.5 559.5,490.5 560.5,493.5 561.5,496.5 561.5,499.5 562.5,501.5 563.5,502.5 566.5,502.5 566.5,501.5 567.5,497.5 568.5,491.5 568.5,485.5 569.5,477.5 570.5,467.5 571.5,457.5 571.5,445.5 572.5,432.5 573.5,418.5 573.5,404.5 574.5,390.5 575.5,377.5 576.5,365.5 576.5,355.5 577.5,347.5 578.5,342.5 578.5,340.5 579.5,340.5 580.5,342.5 580.5,345.5 581.5,350.5 582.5,356.5 583.5,363.5 583.5,370.5 584.5,379.5 585.5,388.5 585.5,398.5 586.5,407.5 587.5,417.5 588.5,426.5 588.5,436.5 589.5,445.5 590.5,453.5 590.5,461.5 591.5,468.5 592.5,474.5 593.5,480.5 593.5,485.5 594.5,483.5 595.5,478.5 595.5,473.5 596.5,467.5 597.5,461.5 598.5,455.5 598.5,449.5 599.5,443.5 600.5,437.5 600.5,432.5 601.5,429.5 602.5,430.5 603.5,433.5 603.5,436.5 604.5,440.5 605.5,445.5 605.5,448.5 606.5,452.5 607.5,456.5 607.5,461.5 608.5,466.5 609.5,471.5 610.5,476.5 610.5,480.5 611.5,483.5 612.5,487.5 612.5,490.5 613.5,492.5 614.5,495.5 615.5,494.5 615.5,489.5 616.5,484.5 617.5,479.5 617.5,474.5 618.5,468.5 619.5,463.5 620.5,460.5 620.5,461.5 621.5,464.5 622.5,468.5 622.5,472.5 623.5,477.5 624.5,481.5 625.5,480.5 625.5,476.5 626.5,473.5 627.5,472.5 627.5,475.5 628.5,478.5 629.5,481.5 629.5,484.5 630.5,488.5 631.5,488.5 632.5,485.5 632.5,482.5 633.5,479.5 634.5,476.5 634.5,473.5 635.5,471.5 636.5,469.5 637.5,468.5 637.5,469.5 638.5,471.5 639.5,474.5 639.5,477.5 640.5,480.5 641.5,483.5 642.5,486.5 642.5,489.5 643.5,490.5 644.5,489.5 644.5,488.5 645.5,487.5 646.5,486.5 647.5,485.5 647.5,484.5 648.5,482.5 649.5,481.5 649.5,480.5 650.5,479.5 651.5,478.5 651.5,476.5 652.5,475.5 653.5,474.5 654.5,473.5 654.5,472.5 655.5,470.5 656.5,469.5 656.5,468.5 657.5,461.5 658.5,455.5 659.5,450.5 659.5,447.5 660.5,445.5 661.5,445.5 661.5,446.5 662.5,448.5 663.5,452.5 664.5,456.5 664.5,461.5 665.5,461.5 666.5,462.5 667.5,463.5 668.5,463.5 669.5,464.5 670.5,465.5 671.5,465.5 671.5,466.5 672.5,467.5 673.5,467.5 674.5,468.5 674.5,469.5 675.5,469.5 676.5,470.5 676.5,471.5 677.5,471.5 678.5,472.5 678.5,473.5 679.5,473.5 680.5,474.5 681.5,475.5 681.5,476.5 682.5,476.5 683.5,477.5 683.5,478.5 684.5,479.5 685.5,479.5 686.5,474.5 686.5,470.5 687.5,466.5 688.5,463.5 688.5,461.5 689.5,460.5 691.5,460.5 691.5,462.5 692.5,464.5 693.5,466.5 693.5,470.5 694.5,473.5 695.5,477.5 696.5,481.5 696.5,484.5 697.5,488.5 698.5,491.5 698.5,492.5 699.5,489.5 700.5,485.5 700.5,481.5 701.5,477.5 702.5,474.5 703.5,470.5 703.5,467.5 705.5,467.5 705.5,468.5 706.5,469.5 707.5,469.5 708.5,471.5 708.5,472.5 709.5,473.5 710.5,474.5 710.5,475.5 711.5,477.5 712.5,478.5 713.5,479.5 713.5,481.5 714.5,482.5 715.5,483.5 715.5,485.5 716.5,486.5 717.5,487.5 718.5,489.5 718.5,490.5 719.5,491.5 720.5,492.5 720.5,493.5 721.5,494.5 722.5,495.5 722.5,496.5 723.5,497.5 724.5,498.5 725.5,499.5 725.5,500.5 726.5,501.5 727.5,501.5 727.5,502.5 728.5,501.5 729.5,500.5 730.5,499.5 730.5,498.5 731.5,497.5 732.5,496.5 734.5,496.5 735.5,497.5 735.5,498.5 736.5,499.5 737.5,500.5 737.5,501.5 738.5,502.5 739.5,503.5 740.5,504.5 740.5,505.5 741.5,506.5 742.5,506.5 742.5,507.5 743.5,507.5 744.5,508.5 751.5,508.5 752.5,507.5 754.5,507.5 754.5,508.5 755.5,508.5 756.5,509.5 759.5,509.5 760.5,510.5 767.5,510.5 768.5,509.5 769.5,508.5 769.5,507.5 771.5,507.5 771.5,508.5 772.5,509.5 773.5,510.5 784.5,510.5 785.5,509.5 786.5,509.5 786.5,508.5 787.5,507.5 788.5,507.5 789.5,506.5 789.5,507.5 790.5,509.5 791.5,510.5 791.5,508.5 792.5,507.5 793.5,506.5 793.5,505.5 794.5,506.5 795.5,508.5 796.5,508.5 797.5,507.5 798.5,507.5 798.5,508.5 799.5,508.5 800.5,509.5 801.5,509.5 801.5,510.5 803.5,510.5 804.5,509.5 805.5,508.5 806.5,507.5 806.5,506.5 807.5,505.5 808.5,505.5 808.5,506.5 809.5,507.5 810.5,508.5 811.5,509.5 811.5,510.5 814.5,510.5 815.5,509.5 816.5,508.5 818.5,508.5 819.5,509.5 820.5,509.5 820.5,510.5 823.5,510.5 824.5,509.5 825.5,508.5 825.5,507.5 826.5,506.5 828.5,506.5 828.5,507.5 829.5,507.5 830.5,508.5 831.5,509.5 832.5,510.5 833.5,509.5 833.5,508.5 834.5,507.5 835.5,506.5 836.5,507.5 837.5,508.5 838.5,509.5 839.5,510.5 843.5,510.5 844.5,508.5 845.5,506.5 845.5,505.5 847.5,505.5 847.5,507.5 848.5,508.5 849.5,510.5 853.5,510.5 854.5,509.5 857.5,509.5 858.5,510.5 861.5,510.5 862.5,511.5 864.5,511.5 864.5,512.5 899.5,512.5 900.5,513.5 918.5,513.5 919.5,512.5 994.5,512.5 994.5,511.5 1018.5,511.5"/>
</g>
<g stroke="#333" stroke-width="1" fill="none">
<rect x="76.5" y="73.5" width="978.0" height="457.0"/>
<line x1="112.10" y1="530.5" x2="112.10" y2="540.1"/>
<line x1="338.70" y1="530.5" x2="338.70" y2="540.1"/>
<line x1="565.30" y1="530.5" x2="565.30" y2="540.1"/>
<line x1="791.90" y1="530.5" x2="791.90" y2="540.1"/>
<line x1="1018.50" y1="530.5" x2="1018.50" y2="540.1"/>
<line x1="66.9" y1="514.00" x2="76.5" y2="514.00"/>
<line x1="66.9" y1="453.43" x2="76.5" y2="453.43"/>
<line x1="66.9" y1="392.86" x2="76.5" y2="392.86"/>
<line x1="66.9" y1="332.28" x2="76.5" y2="332.28"/>
<line x1="66.9" y1="271.71" x2="76.5" y2="271.71"/>
<line x1="66.9" y1="211.14" x2="76.5" y2="211.14"/>
<line x1="66.9" y1="150.57" x2="76.5" y2="150.57"/>
<line x1="66.9" y1="90.00" x2="76.5" y2="90.00"/>
</g>
<g font-size="16px" text-anchor="middle">
<text x="112.10" y="565.2">2500</text>
<text x="338.70" y="565.2">3000</text>
<text x="565.30" y="565.2">3500</text>
<text x="791.90" y="565.2">4000</text>
<text x="1018.50" y="565.2">4500</text>
<text transform="translate(54.3 514.00) rotate(-90)">0</text>
<text transform="translate(54.3 453.43) rotate(-90)">200000</text>
<text transform="translate(54.3 332.28) rotate(-90)">600000</text>
<text transform="translate(54.3 211.14) rotate(-90)">1000000</text>
<text transform="translate(54.3 90.00) rotate(-90)">1400000</text>
<text x="565.0" y="602.7" letter-spacing="-0.25">retention time</text>
<text transform="translate(16.8 302.6) rotate(-90)" letter-spacing="-0.12">intensity</text>
</g>
<text x="565.5" y="42.7" font-size="19.2px" font-weight="bold" text-anchor="middle" letter-spacing="-0.25">200 - 600</text>
</svg></body></html>
